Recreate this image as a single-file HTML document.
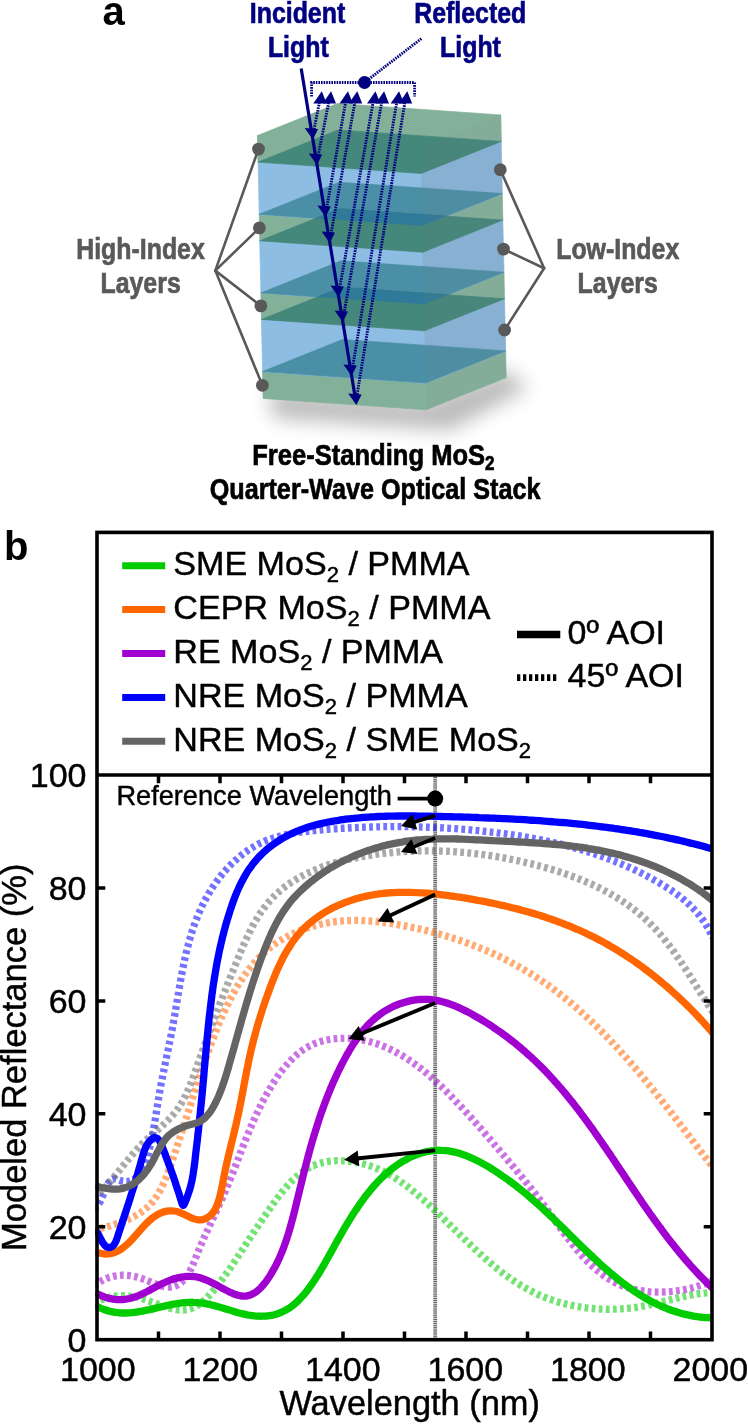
<!DOCTYPE html>
<html lang="en"><head><meta charset="utf-8"><title>Quarter-wave optical stack reflectance</title>
<style>html,body{margin:0;padding:0;background:#fff}svg{display:block}text{font-family:"Liberation Sans",Arial,Helvetica,sans-serif}</style>
</head><body>
<svg width="748" height="1425" viewBox="0 0 748 1425">
<rect width="748" height="1425" fill="#fff"/>
<defs>
<filter id="blur" x="-30%" y="-50%" width="160%" height="200%"><feGaussianBlur stdDeviation="10"/></filter>
<clipPath id="plotclip"><rect x="95.2" y="775.0" width="618.0" height="564.7"/></clipPath>
</defs>
<g id="stack">
<polygon points="268,390 426,402 506,370 528,388 450,430 274,418" fill="#000" opacity="0.27" filter="url(#blur)"/>
<polygon points="257.5,135.6 337.5,103.5 500.6,114.9 501.2,141.4 421.2,173.5 258.1,162.1" fill="#82b098" stroke="#82b098" stroke-width="0.7" stroke-linejoin="round"/>
<polygon points="257.5,135.6 420.6,147.0 421.2,173.8 258.1,162.4" fill="#82b098" stroke="#82b098" stroke-width="0.7" stroke-linejoin="round"/>
<polygon points="420.6,147.0 500.6,114.9 501.2,141.7 421.2,173.8" fill="#86b39b" stroke="#86b39b" stroke-width="0.7" stroke-linejoin="round"/>
<polygon points="259.2,214.3 422.3,225.7 422.9,252.5 259.8,241.1" fill="#82b098" stroke="#82b098" stroke-width="0.7" stroke-linejoin="round"/>
<polygon points="422.3,225.7 502.3,193.6 502.9,220.4 422.9,252.5" fill="#86b39b" stroke="#86b39b" stroke-width="0.7" stroke-linejoin="round"/>
<polygon points="260.9,292.9 424.0,304.3 424.5,331.1 261.4,319.7" fill="#82b098" stroke="#82b098" stroke-width="0.7" stroke-linejoin="round"/>
<polygon points="424.0,304.3 504.0,272.2 504.5,299.0 424.5,331.1" fill="#86b39b" stroke="#86b39b" stroke-width="0.7" stroke-linejoin="round"/>
<polygon points="262.5,371.6 425.6,383.0 426.2,409.8 263.1,398.4" fill="#82b098" stroke="#82b098" stroke-width="0.7" stroke-linejoin="round"/>
<polygon points="425.6,383.0 505.6,350.9 506.2,377.7 426.2,409.8" fill="#86b39b" stroke="#86b39b" stroke-width="0.7" stroke-linejoin="round"/>
<polygon points="258.1,162.1 421.2,173.5 422.3,226.0 259.2,214.6" fill="#8dbde2" stroke="#8dbde2" stroke-width="0.7" stroke-linejoin="round"/>
<polygon points="421.2,173.5 501.2,141.4 502.3,193.9 422.3,226.0" fill="#89b6da" stroke="#89b6da" stroke-width="0.7" stroke-linejoin="round"/>
<polygon points="259.7,240.8 422.8,252.2 424.0,304.6 260.9,293.2" fill="#8dbde2" stroke="#8dbde2" stroke-width="0.7" stroke-linejoin="round"/>
<polygon points="422.8,252.2 502.8,220.1 504.0,272.5 424.0,304.6" fill="#89b6da" stroke="#89b6da" stroke-width="0.7" stroke-linejoin="round"/>
<polygon points="261.4,319.4 424.5,330.8 425.7,383.3 262.6,371.9" fill="#8dbde2" stroke="#8dbde2" stroke-width="0.7" stroke-linejoin="round"/>
<polygon points="424.5,330.8 504.5,298.7 505.7,351.2 425.7,383.3" fill="#89b6da" stroke="#89b6da" stroke-width="0.7" stroke-linejoin="round"/>
<polygon points="259.2,214.3 339.2,182.2 502.3,193.6 422.3,225.7" fill="#4b8fa6" stroke="#4b8fa6" stroke-width="0.7" stroke-linejoin="round"/>
<polygon points="260.9,292.9 340.9,260.8 504.0,272.2 424.0,304.3" fill="#4b8fa6" stroke="#4b8fa6" stroke-width="0.7" stroke-linejoin="round"/>
<polygon points="262.5,371.6 342.5,339.5 505.6,350.9 425.6,383.0" fill="#4b8fa6" stroke="#4b8fa6" stroke-width="0.7" stroke-linejoin="round"/>
<polygon points="258.1,162.1 338.1,130.0 501.2,141.4 421.2,173.5" fill="#44877b" stroke="#44877b" stroke-width="0.7" stroke-linejoin="round"/>
<polygon points="259.7,240.8 339.7,208.7 502.8,220.1 422.8,252.2" fill="#44877b" stroke="#44877b" stroke-width="0.7" stroke-linejoin="round"/>
<polygon points="261.4,319.4 341.4,287.3 504.5,298.7 424.5,330.8" fill="#44877b" stroke="#44877b" stroke-width="0.7" stroke-linejoin="round"/>
<clipPath id="cp1"><polygon points="259.2,214.3 339.2,182.2 502.3,193.6 422.3,225.7"/></clipPath>
<polygon points="259.7,240.8 339.7,208.7 502.8,220.1 422.8,252.2" fill="#2f7a98" stroke="#2f7a98" stroke-width="0.7" stroke-linejoin="round" clip-path="url(#cp1)"/>
<clipPath id="cp2"><polygon points="260.9,292.9 340.9,260.8 504.0,272.2 424.0,304.3"/></clipPath>
<polygon points="261.4,319.4 341.4,287.3 504.5,298.7 424.5,330.8" fill="#2f7a98" stroke="#2f7a98" stroke-width="0.7" stroke-linejoin="round" clip-path="url(#cp2)"/>
<polygon points="420.6,147.0 500.6,114.9 506.2,377.4 426.2,409.5" fill="#7a7a80" opacity="0.09"/>
</g>
<line x1="215.3" y1="270.6" x2="258.5" y2="149.1" stroke="#595959" stroke-width="2.6" stroke-linecap="round"/>
<line x1="215.3" y1="270.6" x2="259.4" y2="227.9" stroke="#595959" stroke-width="2.6" stroke-linecap="round"/>
<line x1="215.3" y1="270.6" x2="260.9" y2="305.9" stroke="#595959" stroke-width="2.6" stroke-linecap="round"/>
<line x1="215.3" y1="270.6" x2="262.4" y2="385.3" stroke="#595959" stroke-width="2.6" stroke-linecap="round"/>
<circle cx="258.5" cy="149.1" r="6.4" fill="#595959"/>
<circle cx="259.4" cy="227.9" r="6.4" fill="#595959"/>
<circle cx="260.9" cy="305.9" r="6.4" fill="#595959"/>
<circle cx="262.4" cy="385.3" r="6.4" fill="#595959"/>
<line x1="544.1" y1="268.2" x2="500.3" y2="169.7" stroke="#595959" stroke-width="2.6" stroke-linecap="round"/>
<line x1="544.1" y1="268.2" x2="503.5" y2="249.1" stroke="#595959" stroke-width="2.6" stroke-linecap="round"/>
<line x1="544.1" y1="268.2" x2="504.6" y2="330.0" stroke="#595959" stroke-width="2.6" stroke-linecap="round"/>
<circle cx="500.3" cy="169.7" r="6.4" fill="#595959"/>
<circle cx="503.5" cy="249.1" r="6.4" fill="#595959"/>
<circle cx="504.6" cy="330.0" r="6.4" fill="#595959"/>
<text transform="translate(297.5 23.1) scale(0.830 1)" text-anchor="middle" font-size="30" font-weight="bold" fill="#000080" stroke="#000080" stroke-width="0.7">Incident</text>
<text transform="translate(298.3 57.1) scale(0.830 1)" text-anchor="middle" font-size="30" font-weight="bold" fill="#000080" stroke="#000080" stroke-width="0.7">Light</text>
<text transform="translate(470.2 23.1) scale(0.830 1)" text-anchor="middle" font-size="30" font-weight="bold" fill="#000080" stroke="#000080" stroke-width="0.7">Reflected</text>
<text transform="translate(470.5 57.1) scale(0.830 1)" text-anchor="middle" font-size="30" font-weight="bold" fill="#000080" stroke="#000080" stroke-width="0.7">Light</text>
<text transform="translate(140.5 259.4) scale(0.830 1)" text-anchor="middle" font-size="30" font-weight="bold" fill="#595959" stroke="#595959" stroke-width="0.7">High-Index</text>
<text transform="translate(140.6 293.2) scale(0.830 1)" text-anchor="middle" font-size="30" font-weight="bold" fill="#595959" stroke="#595959" stroke-width="0.7">Layers</text>
<text transform="translate(617.7 258.8) scale(0.830 1)" text-anchor="middle" font-size="30" font-weight="bold" fill="#595959" stroke="#595959" stroke-width="0.7">Low-Index</text>
<text transform="translate(617.7 292.6) scale(0.830 1)" text-anchor="middle" font-size="30" font-weight="bold" fill="#595959" stroke="#595959" stroke-width="0.7">Layers</text>
<text transform="translate(373.4 464.7) scale(0.852 1)" text-anchor="middle" font-size="30" font-weight="bold" fill="#000" stroke="#000" stroke-width="0.7">Free-Standing MoS<tspan font-size="20" dy="5">2</tspan></text>
<text transform="translate(375.1 498.8) scale(0.840 1)" text-anchor="middle" font-size="30" font-weight="bold" fill="#000" stroke="#000" stroke-width="0.7">Quarter-Wave Optical Stack</text>
<text x="102.5" y="25.3" font-size="40" font-weight="bold" fill="#000">a</text>
<text x="4" y="560.1" font-size="40" font-weight="bold" fill="#000">b</text>
<g id="rays" stroke="#000080" fill="#000080">
<line x1="312.5" y1="137.0" x2="319.3" y2="103.0" stroke-width="2.9" stroke-dasharray="1.6 1.0"/>
<line x1="316.7" y1="163.0" x2="328.6" y2="103.0" stroke-width="2.9" stroke-dasharray="1.6 1.0"/>
<line x1="325.3" y1="215.5" x2="345.5" y2="103.0" stroke-width="2.9" stroke-dasharray="1.6 1.0"/>
<line x1="329.6" y1="241.5" x2="354.8" y2="103.0" stroke-width="2.9" stroke-dasharray="1.6 1.0"/>
<line x1="338.4" y1="295.0" x2="373.0" y2="103.0" stroke-width="2.9" stroke-dasharray="1.6 1.0"/>
<line x1="342.6" y1="321.0" x2="381.6" y2="103.0" stroke-width="2.9" stroke-dasharray="1.6 1.0"/>
<line x1="351.4" y1="374.5" x2="396.6" y2="103.0" stroke-width="2.9" stroke-dasharray="1.6 1.0"/>
<line x1="355.9" y1="402.0" x2="404.8" y2="103.0" stroke-width="2.9" stroke-dasharray="1.6 1.0"/>
<polygon points="321.8,91.3 313.3,103.4 326.7,103.4" stroke="none"/>
<polygon points="331.1,91.3 322.6,103.4 336.0,103.4" stroke="none"/>
<polygon points="348.0,91.3 339.5,103.4 352.9,103.4" stroke="none"/>
<polygon points="357.3,91.3 348.8,103.4 362.2,103.4" stroke="none"/>
<polygon points="375.5,91.3 367.0,103.4 380.4,103.4" stroke="none"/>
<polygon points="384.1,91.3 375.6,103.4 389.0,103.4" stroke="none"/>
<polygon points="399.1,91.3 390.6,103.4 404.0,103.4" stroke="none"/>
<polygon points="407.3,91.3 398.8,103.4 412.2,103.4" stroke="none"/>
<path d="M311.6 96.5V82.5H414.6V96.5" fill="none" stroke-width="2.9" stroke-dasharray="1.6 1.0"/>
<line x1="364.5" y1="82.5" x2="421.5" y2="38.5" stroke-width="2.9" stroke-dasharray="1.6 1.0"/>
<circle cx="364.5" cy="82.5" r="6.5" stroke="none"/>
<line x1="301.2" y1="68.4" x2="355.3" y2="398" stroke-width="3.2"/>
<polygon points="312.9,139.5 304.7,128.0 318.1,129.0" stroke="none"/>
<polygon points="317.0,165.0 308.8,153.5 322.2,154.5" stroke="none"/>
<polygon points="325.6,217.0 317.4,205.5 330.8,206.5" stroke="none"/>
<polygon points="329.8,243.0 321.6,231.5 335.0,232.5" stroke="none"/>
<polygon points="338.7,297.0 330.5,285.5 343.9,286.5" stroke="none"/>
<polygon points="342.8,322.0 334.6,310.5 348.0,311.5" stroke="none"/>
<polygon points="351.6,376.0 343.4,364.5 356.8,365.5" stroke="none"/>
<polygon points="356.4,405.0 348.2,393.5 361.6,394.5" stroke="none"/>
</g>
<g id="plot">
<style>#plot text{stroke:#000;stroke-width:0.45px;paint-order:stroke fill}</style>
<line x1="435.2" y1="775.0" x2="435.2" y2="1339.7" stroke="#cdcdcd" stroke-width="3.6"/>
<line x1="435.2" y1="775.0" x2="435.2" y2="1339.7" stroke="#666" stroke-width="3.8" stroke-dasharray="1 1.1"/>
<g clip-path="url(#plotclip)" fill="none" stroke-width="7.3">
<path d="M93.9 1303.2C95.9 1302.1 97.9 1301.1 99.9 1300.3C101.9 1299.4 103.9 1298.7 105.8 1298.1C107.8 1297.5 109.7 1297.0 111.7 1296.6C113.6 1296.3 115.5 1296.0 117.5 1295.8C119.4 1295.7 121.3 1295.6 123.3 1295.7C125.2 1295.7 127.2 1295.8 129.1 1296.1C131.0 1296.3 133.0 1296.6 135.0 1297.0C136.9 1297.4 138.9 1297.9 140.9 1298.4C142.9 1299.0 144.9 1299.6 146.9 1300.3C148.9 1301.0 150.9 1301.7 153.0 1302.4C155.0 1303.2 157.0 1303.9 159.1 1304.7C161.1 1305.4 163.1 1306.1 165.1 1306.8C167.2 1307.4 169.1 1308.0 171.1 1308.5C173.1 1309.0 175.0 1309.4 177.0 1309.7C178.9 1310.0 180.8 1310.1 182.6 1310.1C184.4 1310.0 186.2 1309.8 188.0 1309.4C189.7 1309.0 191.4 1308.5 193.1 1307.7C194.8 1307.0 196.4 1306.1 198.0 1305.1C199.6 1304.0 201.1 1302.9 202.6 1301.6C204.1 1300.4 205.6 1299.0 207.0 1297.6C208.5 1296.1 209.9 1294.6 211.3 1293.0C212.6 1291.5 214.0 1289.9 215.3 1288.2C216.6 1286.6 217.9 1285.0 219.2 1283.3C220.5 1281.6 221.7 1280.0 223.0 1278.3C224.2 1276.6 225.4 1274.9 226.6 1273.2C227.8 1271.6 229.0 1269.9 230.2 1268.2C231.3 1266.5 232.5 1264.8 233.6 1263.1C234.8 1261.4 235.9 1259.7 237.0 1258.0C238.1 1256.3 239.2 1254.6 240.3 1252.9C241.4 1251.2 242.5 1249.5 243.6 1247.8C244.7 1246.1 245.8 1244.5 246.9 1242.8C248.0 1241.1 249.0 1239.5 250.1 1237.8C251.2 1236.2 252.3 1234.5 253.4 1232.9C254.5 1231.2 255.6 1229.6 256.7 1227.9C257.8 1226.3 258.9 1224.6 260.0 1223.0C261.1 1221.3 262.2 1219.7 263.3 1218.0C264.4 1216.4 265.6 1214.7 266.7 1213.1C267.9 1211.4 269.1 1209.7 270.2 1208.1C271.4 1206.4 272.6 1204.7 273.8 1203.0C275.0 1201.3 276.2 1199.7 277.5 1198.0C278.7 1196.3 280.0 1194.6 281.3 1193.0C282.6 1191.4 283.9 1189.7 285.3 1188.2C286.6 1186.6 288.0 1185.0 289.4 1183.5C290.8 1182.0 292.3 1180.5 293.7 1179.1C295.2 1177.7 296.7 1176.4 298.3 1175.1C299.8 1173.8 301.4 1172.6 303.1 1171.4C304.7 1170.3 306.4 1169.2 308.1 1168.3C309.8 1167.3 311.6 1166.4 313.4 1165.6C315.2 1164.8 317.1 1164.1 319.0 1163.6C320.9 1163.0 322.8 1162.5 324.8 1162.1C326.8 1161.7 328.8 1161.4 330.8 1161.2C332.9 1160.9 334.9 1160.8 336.9 1160.7C339.0 1160.7 341.1 1160.7 343.1 1160.8C345.2 1160.9 347.2 1161.0 349.3 1161.3C351.3 1161.5 353.3 1161.8 355.4 1162.1C357.4 1162.5 359.3 1162.9 361.3 1163.4C363.2 1163.9 365.2 1164.4 367.1 1165.0C369.0 1165.6 370.9 1166.2 372.7 1166.9C374.6 1167.6 376.4 1168.3 378.2 1169.1C380.0 1169.9 381.8 1170.8 383.6 1171.6C385.4 1172.5 387.1 1173.4 388.8 1174.4C390.6 1175.4 392.3 1176.4 394.0 1177.4C395.7 1178.4 397.3 1179.5 399.0 1180.6C400.7 1181.7 402.3 1182.9 403.9 1184.0C405.6 1185.2 407.2 1186.4 408.8 1187.6C410.4 1188.9 412.0 1190.1 413.5 1191.4C415.1 1192.7 416.7 1194.0 418.2 1195.3C419.8 1196.6 421.3 1198.0 422.9 1199.3C424.4 1200.7 425.9 1202.1 427.5 1203.4C429.0 1204.8 430.5 1206.2 432.0 1207.6C433.5 1209.0 435.0 1210.5 436.5 1211.9C438.0 1213.3 439.5 1214.7 441.0 1216.2C442.4 1217.6 443.9 1219.1 445.4 1220.5C446.9 1221.9 448.4 1223.4 449.8 1224.8C451.3 1226.3 452.8 1227.7 454.2 1229.2C455.7 1230.6 457.2 1232.1 458.7 1233.5C460.1 1235.0 461.6 1236.4 463.1 1237.8C464.6 1239.3 466.0 1240.7 467.5 1242.1C469.0 1243.6 470.5 1245.0 472.0 1246.4C473.5 1247.8 475.0 1249.2 476.5 1250.6C477.9 1252.0 479.5 1253.4 481.0 1254.7C482.5 1256.1 484.0 1257.5 485.5 1258.8C487.0 1260.1 488.6 1261.5 490.1 1262.8C491.6 1264.1 493.2 1265.4 494.7 1266.7C496.3 1267.9 497.9 1269.2 499.5 1270.4C501.0 1271.7 502.6 1272.9 504.2 1274.1C505.8 1275.3 507.4 1276.5 509.1 1277.6C510.7 1278.8 512.3 1279.9 514.0 1281.0C515.6 1282.1 517.3 1283.2 519.0 1284.2C520.7 1285.3 522.4 1286.3 524.1 1287.3C525.8 1288.3 527.5 1289.2 529.3 1290.2C531.0 1291.1 532.8 1292.0 534.6 1292.9C536.4 1293.7 538.2 1294.6 540.0 1295.4C541.8 1296.2 543.7 1296.9 545.6 1297.7C547.4 1298.4 549.3 1299.1 551.2 1299.7C553.1 1300.4 555.0 1301.0 556.9 1301.6C558.9 1302.2 560.8 1302.8 562.8 1303.3C564.7 1303.8 566.7 1304.3 568.7 1304.7C570.6 1305.2 572.6 1305.6 574.6 1306.0C576.6 1306.4 578.6 1306.7 580.6 1307.0C582.7 1307.4 584.7 1307.6 586.7 1307.9C588.7 1308.1 590.8 1308.4 592.8 1308.5C594.8 1308.7 596.9 1308.9 598.9 1309.0C601.0 1309.1 603.0 1309.2 605.1 1309.2C607.1 1309.3 609.2 1309.3 611.2 1309.2C613.3 1309.2 615.3 1309.2 617.3 1309.1C619.4 1309.0 621.4 1308.9 623.5 1308.7C625.5 1308.6 627.5 1308.4 629.6 1308.1C631.6 1307.9 633.6 1307.7 635.6 1307.4C637.6 1307.1 639.6 1306.8 641.6 1306.4C643.6 1306.1 645.6 1305.7 647.6 1305.3C649.6 1304.8 651.5 1304.4 653.5 1304.0C655.5 1303.5 657.4 1303.0 659.4 1302.5C661.3 1302.0 663.3 1301.6 665.3 1301.1C667.2 1300.6 669.2 1300.1 671.1 1299.6C673.1 1299.1 675.0 1298.6 677.0 1298.1C678.9 1297.6 680.9 1297.1 682.9 1296.7C684.8 1296.3 686.8 1295.8 688.8 1295.4C690.8 1295.0 692.8 1294.7 694.8 1294.3C696.8 1294.0 698.8 1293.7 700.8 1293.4C702.8 1293.1 704.9 1292.9 706.9 1292.8C709.0 1292.6 711.0 1292.5 713.1 1292.4" stroke="#00cc00" stroke-opacity="0.55" stroke-dasharray="3.8 3.3"/>
<path d="M93.3 1230.1C95.4 1229.6 97.4 1229.1 99.4 1228.6C101.4 1228.2 103.5 1227.6 105.5 1227.1C107.5 1226.6 109.5 1226.0 111.5 1225.4C113.5 1224.8 115.5 1224.2 117.5 1223.5C119.4 1222.9 121.4 1222.2 123.3 1221.4C125.2 1220.7 127.0 1219.9 128.9 1219.1C130.7 1218.2 132.5 1217.3 134.2 1216.4C136.0 1215.5 137.7 1214.5 139.3 1213.4C140.9 1212.4 142.5 1211.2 144.0 1210.1C145.5 1208.9 147.0 1207.6 148.4 1206.3C149.7 1205.0 151.1 1203.6 152.3 1202.1C153.5 1200.6 154.7 1199.1 155.8 1197.5C156.9 1195.9 157.9 1194.3 158.9 1192.6C159.9 1190.9 160.8 1189.1 161.7 1187.3C162.6 1185.6 163.4 1183.7 164.2 1181.9C165.0 1180.0 165.8 1178.2 166.6 1176.3C167.3 1174.4 168.0 1172.4 168.7 1170.5C169.4 1168.6 170.1 1166.7 170.8 1164.7C171.5 1162.8 172.2 1160.9 172.8 1158.9C173.5 1157.0 174.1 1155.1 174.8 1153.2C175.4 1151.2 176.1 1149.3 176.7 1147.4C177.4 1145.5 178.0 1143.5 178.6 1141.6C179.3 1139.7 179.9 1137.8 180.5 1135.9C181.1 1134.0 181.8 1132.1 182.4 1130.2C183.0 1128.2 183.6 1126.3 184.2 1124.4C184.8 1122.5 185.4 1120.6 186.1 1118.7C186.7 1116.8 187.3 1114.9 187.9 1113.0C188.5 1111.1 189.1 1109.2 189.7 1107.3C190.3 1105.4 190.9 1103.5 191.5 1101.6C192.1 1099.7 192.7 1097.8 193.3 1095.9C193.9 1094.0 194.6 1092.1 195.2 1090.2C195.8 1088.3 196.4 1086.4 197.0 1084.5C197.6 1082.6 198.3 1080.7 198.9 1078.8C199.5 1077.0 200.2 1075.1 200.8 1073.2C201.4 1071.3 202.1 1069.4 202.7 1067.5C203.4 1065.6 204.0 1063.7 204.7 1061.8C205.3 1059.9 206.0 1058.0 206.7 1056.1C207.4 1054.2 208.0 1052.3 208.7 1050.4C209.4 1048.5 210.1 1046.6 210.8 1044.7C211.5 1042.8 212.2 1040.9 213.0 1039.0C213.7 1037.1 214.4 1035.2 215.2 1033.3C215.9 1031.4 216.7 1029.5 217.4 1027.6C218.2 1025.7 219.0 1023.8 219.8 1021.9C220.6 1020.0 221.4 1018.1 222.2 1016.2C223.0 1014.4 223.9 1012.5 224.7 1010.6C225.6 1008.7 226.5 1006.9 227.4 1005.0C228.2 1003.2 229.2 1001.4 230.1 999.6C231.0 997.7 232.0 995.9 232.9 994.1C233.9 992.4 234.9 990.6 235.9 988.8C236.9 987.1 238.0 985.3 239.0 983.6C240.1 981.9 241.2 980.2 242.3 978.6C243.4 976.9 244.5 975.2 245.7 973.6C246.8 972.0 248.0 970.4 249.2 968.9C250.5 967.3 251.7 965.8 253.0 964.2C254.3 962.7 255.6 961.3 256.9 959.8C258.2 958.4 259.6 957.0 261.0 955.6C262.4 954.2 263.9 952.9 265.3 951.6C266.8 950.3 268.3 949.0 269.8 947.8C271.4 946.6 273.0 945.4 274.6 944.2C276.2 943.1 277.8 942.0 279.5 940.9C281.2 939.9 282.9 938.9 284.7 937.9C286.4 936.9 288.2 936.0 290.0 935.1C291.8 934.2 293.6 933.3 295.5 932.5C297.3 931.7 299.2 930.9 301.1 930.2C303.0 929.5 304.9 928.8 306.8 928.1C308.7 927.5 310.7 926.9 312.6 926.3C314.6 925.8 316.6 925.2 318.5 924.8C320.5 924.3 322.5 923.8 324.5 923.4C326.5 923.0 328.5 922.7 330.5 922.3C332.5 922.0 334.6 921.7 336.6 921.5C338.6 921.3 340.6 921.1 342.6 920.9C344.6 920.8 346.6 920.6 348.6 920.6C350.6 920.5 352.6 920.4 354.6 920.4C356.6 920.4 358.6 920.5 360.6 920.5C362.6 920.6 364.6 920.7 366.6 920.8C368.6 920.9 370.6 921.1 372.6 921.2C374.6 921.4 376.6 921.6 378.6 921.8C380.6 922.0 382.6 922.3 384.5 922.6C386.5 922.8 388.5 923.1 390.5 923.4C392.5 923.7 394.5 924.0 396.5 924.4C398.4 924.7 400.4 925.1 402.4 925.4C404.4 925.8 406.4 926.2 408.3 926.6C410.3 927.0 412.3 927.4 414.3 927.8C416.3 928.2 418.2 928.6 420.2 929.1C422.2 929.6 424.1 930.0 426.1 930.5C428.1 931.0 430.0 931.5 432.0 932.0C434.0 932.5 435.9 933.0 437.9 933.6C439.8 934.1 441.8 934.7 443.7 935.3C445.7 935.8 447.6 936.4 449.5 937.0C451.5 937.6 453.4 938.2 455.3 938.9C457.3 939.5 459.2 940.2 461.1 940.8C463.0 941.5 464.9 942.2 466.8 942.9C468.7 943.6 470.6 944.3 472.5 945.0C474.4 945.7 476.3 946.5 478.2 947.2C480.1 948.0 481.9 948.7 483.8 949.5C485.7 950.3 487.5 951.1 489.4 951.9C491.2 952.7 493.1 953.6 494.9 954.4C496.7 955.3 498.5 956.1 500.4 957.0C502.2 957.9 504.0 958.8 505.8 959.7C507.6 960.6 509.4 961.5 511.1 962.5C512.9 963.4 514.7 964.4 516.4 965.4C518.2 966.3 520.0 967.3 521.7 968.3C523.4 969.3 525.2 970.3 526.9 971.4C528.6 972.4 530.3 973.5 532.0 974.5C533.7 975.6 535.4 976.7 537.0 977.8C538.7 978.9 540.4 980.0 542.0 981.1C543.7 982.3 545.3 983.4 547.0 984.6C548.6 985.7 550.2 986.9 551.8 988.1C553.4 989.2 555.0 990.4 556.6 991.7C558.2 992.9 559.8 994.1 561.4 995.3C562.9 996.6 564.5 997.8 566.0 999.1C567.6 1000.3 569.1 1001.6 570.7 1002.9C572.2 1004.2 573.7 1005.5 575.3 1006.8C576.8 1008.1 578.3 1009.4 579.8 1010.8C581.3 1012.1 582.8 1013.4 584.2 1014.8C585.7 1016.1 587.2 1017.5 588.7 1018.9C590.1 1020.3 591.6 1021.6 593.0 1023.0C594.5 1024.4 595.9 1025.8 597.4 1027.2C598.8 1028.7 600.2 1030.1 601.7 1031.5C603.1 1032.9 604.5 1034.4 605.9 1035.8C607.3 1037.3 608.7 1038.7 610.1 1040.2C611.5 1041.7 612.9 1043.1 614.2 1044.6C615.6 1046.1 617.0 1047.6 618.4 1049.1C619.7 1050.6 621.1 1052.1 622.4 1053.6C623.8 1055.1 625.1 1056.6 626.5 1058.1C627.8 1059.6 629.1 1061.1 630.5 1062.7C631.8 1064.2 633.1 1065.7 634.4 1067.3C635.8 1068.8 637.1 1070.4 638.4 1071.9C639.7 1073.5 641.0 1075.0 642.3 1076.6C643.6 1078.1 644.9 1079.7 646.2 1081.3C647.5 1082.8 648.7 1084.4 650.0 1086.0C651.3 1087.6 652.6 1089.1 653.8 1090.7C655.1 1092.3 656.4 1093.9 657.6 1095.5C658.9 1097.1 660.2 1098.6 661.4 1100.2C662.7 1101.8 663.9 1103.4 665.2 1105.0C666.4 1106.6 667.7 1108.2 668.9 1109.8C670.2 1111.4 671.4 1113.0 672.6 1114.6C673.9 1116.2 675.1 1117.8 676.3 1119.4C677.6 1121.0 678.8 1122.6 680.0 1124.2C681.2 1125.8 682.5 1127.4 683.7 1129.0C684.9 1130.6 686.1 1132.2 687.3 1133.8C688.5 1135.4 689.8 1137.0 691.0 1138.5C692.2 1140.1 693.4 1141.7 694.6 1143.3C695.8 1144.9 697.0 1146.5 698.2 1148.1C699.4 1149.7 700.6 1151.2 701.8 1152.8C703.0 1154.4 704.2 1156.0 705.5 1157.6C706.7 1159.1 707.9 1160.7 709.1 1162.3C710.3 1163.8 711.5 1165.4 712.7 1166.9" stroke="#ff6600" stroke-opacity="0.55" stroke-dasharray="3.8 3.3"/>
<path d="M94.0 1285.9C95.8 1284.5 97.6 1283.2 99.4 1282.1C101.3 1281.0 103.1 1280.0 105.0 1279.2C106.9 1278.3 108.7 1277.6 110.6 1277.1C112.5 1276.5 114.4 1276.1 116.3 1275.8C118.2 1275.5 120.2 1275.3 122.1 1275.2C124.0 1275.2 126.0 1275.2 127.9 1275.4C129.9 1275.6 131.8 1275.9 133.8 1276.3C135.8 1276.7 137.8 1277.2 139.8 1277.9C141.8 1278.5 143.8 1279.2 145.8 1280.0C147.8 1280.8 149.8 1281.6 151.8 1282.4C153.8 1283.3 155.8 1284.0 157.8 1284.7C159.7 1285.4 161.7 1286.0 163.5 1286.4C165.4 1286.9 167.3 1287.1 169.0 1287.1C170.8 1287.2 172.5 1286.9 174.2 1286.4C175.8 1285.9 177.4 1285.1 178.9 1284.2C180.4 1283.2 181.8 1282.0 183.1 1280.6C184.5 1279.3 185.7 1277.8 186.9 1276.1C188.0 1274.5 189.1 1272.8 190.0 1270.9C191.0 1269.1 191.9 1267.2 192.7 1265.3C193.5 1263.3 194.3 1261.4 195.1 1259.4C195.9 1257.4 196.6 1255.4 197.4 1253.5C198.2 1251.5 199.0 1249.6 199.8 1247.7C200.6 1245.7 201.4 1243.8 202.2 1241.9C203.1 1240.0 203.9 1238.2 204.7 1236.3C205.6 1234.4 206.4 1232.6 207.3 1230.7C208.1 1228.9 209.0 1227.0 209.8 1225.2C210.7 1223.3 211.5 1221.5 212.4 1219.7C213.2 1217.9 214.1 1216.0 214.9 1214.2C215.8 1212.4 216.6 1210.6 217.4 1208.8C218.3 1207.0 219.1 1205.1 219.9 1203.3C220.8 1201.5 221.6 1199.7 222.4 1197.9C223.2 1196.1 224.0 1194.2 224.8 1192.4C225.6 1190.6 226.4 1188.7 227.1 1186.9C227.9 1185.0 228.7 1183.2 229.4 1181.3C230.2 1179.5 230.9 1177.6 231.6 1175.8C232.4 1173.9 233.1 1172.0 233.8 1170.2C234.6 1168.3 235.3 1166.4 236.0 1164.6C236.7 1162.7 237.4 1160.8 238.2 1159.0C238.9 1157.1 239.6 1155.2 240.3 1153.3C241.1 1151.5 241.8 1149.6 242.5 1147.7C243.2 1145.8 244.0 1144.0 244.7 1142.1C245.4 1140.2 246.2 1138.4 246.9 1136.5C247.7 1134.6 248.5 1132.8 249.2 1130.9C250.0 1129.0 250.8 1127.2 251.6 1125.3C252.4 1123.5 253.2 1121.6 254.0 1119.8C254.8 1117.9 255.6 1116.1 256.5 1114.3C257.3 1112.4 258.2 1110.6 259.1 1108.8C260.0 1107.0 260.9 1105.2 261.8 1103.3C262.7 1101.5 263.7 1099.7 264.6 1098.0C265.6 1096.2 266.6 1094.4 267.6 1092.6C268.6 1090.9 269.6 1089.1 270.7 1087.3C271.7 1085.6 272.8 1083.9 273.9 1082.1C275.0 1080.4 276.2 1078.7 277.3 1077.0C278.5 1075.3 279.7 1073.6 280.9 1072.0C282.1 1070.4 283.4 1068.7 284.7 1067.2C286.0 1065.6 287.3 1064.1 288.7 1062.6C290.0 1061.1 291.5 1059.6 292.9 1058.3C294.3 1056.9 295.8 1055.5 297.3 1054.3C298.8 1053.0 300.4 1051.8 302.0 1050.6C303.6 1049.5 305.2 1048.4 306.9 1047.4C308.6 1046.4 310.4 1045.5 312.1 1044.7C313.9 1043.8 315.7 1043.1 317.6 1042.4C319.5 1041.8 321.4 1041.2 323.3 1040.7C325.3 1040.2 327.3 1039.8 329.3 1039.5C331.3 1039.1 333.3 1038.9 335.3 1038.7C337.4 1038.5 339.4 1038.4 341.5 1038.3C343.5 1038.3 345.6 1038.3 347.7 1038.4C349.7 1038.5 351.8 1038.6 353.8 1038.9C355.9 1039.1 357.9 1039.4 359.9 1039.7C362.0 1040.0 364.0 1040.4 365.9 1040.8C367.9 1041.3 369.9 1041.8 371.8 1042.3C373.7 1042.9 375.6 1043.5 377.5 1044.1C379.4 1044.7 381.3 1045.4 383.1 1046.2C385.0 1046.9 386.8 1047.7 388.6 1048.5C390.4 1049.3 392.2 1050.2 394.0 1051.1C395.7 1052.0 397.5 1053.0 399.2 1054.0C401.0 1054.9 402.7 1056.0 404.4 1057.0C406.1 1058.1 407.7 1059.2 409.4 1060.3C411.1 1061.4 412.7 1062.5 414.3 1063.7C416.0 1064.9 417.6 1066.1 419.2 1067.3C420.8 1068.6 422.4 1069.8 424.0 1071.1C425.5 1072.4 427.1 1073.7 428.6 1075.0C430.2 1076.4 431.7 1077.7 433.2 1079.1C434.7 1080.4 436.3 1081.8 437.7 1083.2C439.2 1084.6 440.7 1086.0 442.2 1087.4C443.7 1088.9 445.1 1090.3 446.6 1091.7C448.0 1093.2 449.5 1094.6 450.9 1096.1C452.3 1097.6 453.7 1099.0 455.1 1100.5C456.5 1102.0 457.9 1103.4 459.3 1104.9C460.7 1106.4 462.1 1107.9 463.5 1109.4C464.9 1110.9 466.2 1112.4 467.6 1113.9C469.0 1115.4 470.3 1116.9 471.7 1118.4C473.0 1119.9 474.3 1121.4 475.7 1122.9C477.0 1124.4 478.3 1125.9 479.7 1127.4C481.0 1128.9 482.3 1130.4 483.6 1131.9C484.9 1133.4 486.2 1135.0 487.6 1136.5C488.9 1138.0 490.2 1139.5 491.5 1141.0C492.8 1142.5 494.1 1144.1 495.3 1145.6C496.6 1147.1 497.9 1148.6 499.2 1150.1C500.5 1151.6 501.8 1153.2 503.1 1154.7C504.3 1156.2 505.6 1157.7 506.9 1159.2C508.2 1160.7 509.5 1162.2 510.7 1163.7C512.0 1165.3 513.3 1166.8 514.6 1168.3C515.8 1169.8 517.1 1171.3 518.4 1172.9C519.6 1174.4 520.9 1175.9 522.1 1177.4C523.4 1179.0 524.7 1180.5 525.9 1182.1C527.2 1183.6 528.4 1185.2 529.7 1186.7C530.9 1188.3 532.1 1189.9 533.4 1191.4C534.6 1193.0 535.9 1194.6 537.1 1196.2C538.3 1197.8 539.5 1199.4 540.8 1201.0C542.0 1202.7 543.2 1204.3 544.4 1205.9C545.6 1207.6 546.8 1209.2 548.0 1210.9C549.2 1212.6 550.4 1214.2 551.6 1215.9C552.8 1217.6 554.0 1219.3 555.2 1221.0C556.4 1222.7 557.6 1224.4 558.9 1226.0C560.1 1227.7 561.3 1229.4 562.5 1231.1C563.7 1232.8 564.9 1234.4 566.2 1236.1C567.4 1237.8 568.6 1239.4 569.9 1241.0C571.1 1242.7 572.4 1244.3 573.7 1245.9C575.0 1247.5 576.3 1249.1 577.6 1250.6C578.9 1252.2 580.2 1253.7 581.5 1255.2C582.9 1256.7 584.2 1258.2 585.6 1259.7C587.0 1261.1 588.4 1262.5 589.8 1263.9C591.2 1265.3 592.7 1266.6 594.1 1267.9C595.6 1269.2 597.1 1270.5 598.6 1271.7C600.1 1272.9 601.7 1274.1 603.2 1275.3C604.8 1276.4 606.4 1277.5 608.1 1278.5C609.7 1279.5 611.4 1280.5 613.1 1281.4C614.8 1282.4 616.5 1283.2 618.3 1284.0C620.1 1284.8 621.9 1285.6 623.7 1286.3C625.6 1286.9 627.5 1287.6 629.4 1288.1C631.3 1288.7 633.2 1289.2 635.2 1289.6C637.2 1290.0 639.2 1290.4 641.2 1290.7C643.3 1291.0 645.3 1291.3 647.4 1291.5C649.4 1291.7 651.5 1291.8 653.6 1291.9C655.7 1292.0 657.8 1292.1 659.9 1292.0C662.0 1292.0 664.1 1292.0 666.2 1291.8C668.2 1291.7 670.3 1291.6 672.4 1291.3C674.5 1291.1 676.6 1290.9 678.6 1290.5C680.7 1290.2 682.7 1289.9 684.7 1289.5C686.8 1289.1 688.8 1288.6 690.7 1288.2C692.7 1287.7 694.6 1287.1 696.5 1286.6C698.5 1286.0 700.3 1285.4 702.2 1284.7C704.0 1284.1 705.8 1283.4 707.5 1282.7C709.3 1282.0 711.0 1281.2 712.6 1280.4" stroke="#a000d0" stroke-opacity="0.55" stroke-dasharray="3.8 3.3"/>
<path d="M93.8 1208.5C95.5 1207.8 96.9 1206.5 98.1 1205.0C99.3 1203.5 100.3 1201.6 101.2 1199.6C102.1 1197.7 102.9 1195.5 103.7 1193.4C104.5 1191.3 105.2 1189.2 106.1 1187.2C107.0 1185.2 108.0 1183.4 109.2 1181.9C110.4 1180.5 111.8 1179.4 113.4 1179.0C115.0 1178.6 116.9 1179.3 118.8 1180.0C120.8 1180.8 122.7 1181.3 124.4 1181.4C126.2 1181.6 128.0 1181.4 129.6 1181.0C131.2 1180.6 132.8 1179.9 134.2 1179.1C135.7 1178.2 137.0 1177.1 138.2 1175.8C139.5 1174.5 140.6 1173.0 141.6 1171.4C142.6 1169.8 143.5 1168.1 144.3 1166.3C145.1 1164.4 145.8 1162.5 146.5 1160.5C147.1 1158.5 147.7 1156.5 148.2 1154.4C148.7 1152.3 149.2 1150.3 149.7 1148.2C150.2 1146.1 150.6 1144.1 151.1 1142.1C151.5 1140.0 151.9 1138.0 152.3 1136.0C152.7 1134.0 153.1 1131.9 153.4 1129.9C153.8 1127.9 154.1 1125.9 154.5 1124.0C154.8 1122.0 155.1 1120.0 155.5 1118.0C155.8 1116.0 156.1 1114.1 156.4 1112.1C156.7 1110.1 157.0 1108.2 157.3 1106.2C157.7 1104.2 158.0 1102.3 158.3 1100.3C158.6 1098.4 158.9 1096.4 159.2 1094.4C159.6 1092.5 159.9 1090.5 160.3 1088.6C160.6 1086.6 161.0 1084.7 161.3 1082.7C161.7 1080.8 162.1 1078.8 162.5 1076.9C162.9 1074.9 163.3 1072.9 163.7 1071.0C164.1 1069.0 164.5 1067.1 164.9 1065.1C165.3 1063.1 165.7 1061.2 166.1 1059.2C166.5 1057.2 166.9 1055.3 167.4 1053.3C167.8 1051.3 168.2 1049.3 168.6 1047.4C169.0 1045.4 169.4 1043.4 169.8 1041.4C170.2 1039.5 170.6 1037.5 171.0 1035.5C171.4 1033.5 171.8 1031.5 172.2 1029.5C172.5 1027.5 172.9 1025.5 173.3 1023.5C173.6 1021.5 174.0 1019.5 174.3 1017.5C174.7 1015.5 175.0 1013.5 175.4 1011.5C175.7 1009.5 176.0 1007.5 176.4 1005.5C176.7 1003.5 177.0 1001.4 177.4 999.4C177.7 997.4 178.0 995.4 178.4 993.4C178.7 991.4 179.0 989.4 179.4 987.4C179.7 985.4 180.1 983.4 180.4 981.4C180.8 979.4 181.2 977.4 181.5 975.4C181.9 973.4 182.3 971.4 182.7 969.4C183.1 967.5 183.5 965.5 183.9 963.5C184.3 961.5 184.7 959.5 185.1 957.6C185.6 955.6 186.0 953.7 186.5 951.7C187.0 949.7 187.5 947.8 188.0 945.9C188.5 943.9 189.0 942.0 189.5 940.1C190.1 938.1 190.7 936.2 191.2 934.3C191.8 932.4 192.4 930.5 193.1 928.6C193.7 926.7 194.3 924.8 195.0 923.0C195.7 921.1 196.4 919.2 197.2 917.4C197.9 915.5 198.7 913.7 199.5 911.9C200.2 910.1 201.1 908.2 201.9 906.4C202.8 904.6 203.7 902.8 204.6 901.1C205.5 899.3 206.5 897.5 207.5 895.8C208.4 894.0 209.5 892.3 210.5 890.6C211.6 888.9 212.7 887.2 213.8 885.5C215.0 883.8 216.2 882.1 217.4 880.5C218.6 878.8 219.8 877.2 221.1 875.6C222.4 874.0 223.7 872.4 225.1 870.9C226.4 869.3 227.8 867.8 229.2 866.3C230.6 864.9 232.1 863.4 233.6 862.0C235.1 860.6 236.6 859.3 238.1 857.9C239.7 856.6 241.2 855.3 242.8 854.1C244.4 852.9 246.1 851.7 247.7 850.5C249.4 849.4 251.1 848.3 252.8 847.3C254.5 846.2 256.2 845.3 258.0 844.3C259.8 843.4 261.6 842.6 263.4 841.8C265.2 841.0 267.1 840.2 268.9 839.5C270.8 838.8 272.7 838.2 274.6 837.6C276.5 837.0 278.4 836.5 280.3 836.0C282.3 835.5 284.2 835.0 286.2 834.6C288.1 834.2 290.1 833.8 292.1 833.5C294.1 833.1 296.1 832.8 298.1 832.5C300.1 832.2 302.1 831.9 304.1 831.7C306.2 831.4 308.2 831.2 310.2 831.0C312.2 830.8 314.3 830.6 316.3 830.4C318.3 830.2 320.4 830.0 322.4 829.8C324.4 829.6 326.4 829.5 328.5 829.3C330.5 829.2 332.5 829.0 334.5 828.9C336.6 828.7 338.6 828.6 340.6 828.4C342.6 828.3 344.7 828.2 346.7 828.1C348.7 827.9 350.7 827.8 352.7 827.7C354.7 827.6 356.8 827.5 358.8 827.4C360.8 827.4 362.8 827.3 364.8 827.2C366.8 827.1 368.8 827.1 370.9 827.0C372.9 826.9 374.9 826.9 376.9 826.8C378.9 826.8 380.9 826.8 382.9 826.7C384.9 826.7 386.9 826.7 389.0 826.7C391.0 826.6 393.0 826.6 395.0 826.6C397.0 826.6 399.0 826.6 401.0 826.6C403.0 826.7 405.0 826.7 407.0 826.7C409.0 826.7 411.0 826.8 413.0 826.8C415.1 826.8 417.1 826.9 419.1 826.9C421.1 827.0 423.1 827.1 425.1 827.1C427.1 827.2 429.1 827.3 431.1 827.4C433.1 827.4 435.1 827.5 437.1 827.6C439.1 827.7 441.1 827.8 443.2 827.9C445.2 828.1 447.2 828.2 449.2 828.3C451.2 828.4 453.2 828.6 455.2 828.7C457.2 828.8 459.2 829.0 461.2 829.2C463.2 829.3 465.3 829.5 467.3 829.6C469.3 829.8 471.3 830.0 473.3 830.2C475.3 830.4 477.3 830.5 479.3 830.7C481.3 830.9 483.4 831.2 485.4 831.4C487.4 831.6 489.4 831.8 491.4 832.1C493.4 832.3 495.4 832.5 497.4 832.8C499.4 833.0 501.5 833.3 503.5 833.6C505.5 833.8 507.5 834.1 509.5 834.4C511.5 834.7 513.5 835.0 515.5 835.3C517.5 835.6 519.5 835.9 521.5 836.3C523.5 836.6 525.5 836.9 527.5 837.3C529.5 837.6 531.5 838.0 533.4 838.3C535.4 838.7 537.4 839.1 539.4 839.5C541.4 839.9 543.4 840.3 545.3 840.7C547.3 841.1 549.3 841.6 551.3 842.0C553.2 842.4 555.2 842.9 557.2 843.4C559.1 843.8 561.1 844.3 563.1 844.8C565.0 845.3 567.0 845.8 568.9 846.3C570.9 846.8 572.8 847.3 574.7 847.9C576.7 848.4 578.6 849.0 580.6 849.5C582.5 850.1 584.4 850.7 586.3 851.3C588.3 851.9 590.2 852.5 592.1 853.1C594.0 853.7 595.9 854.4 597.8 855.0C599.7 855.7 601.6 856.3 603.5 857.0C605.4 857.7 607.3 858.4 609.2 859.1C611.0 859.8 612.9 860.5 614.8 861.3C616.6 862.0 618.5 862.8 620.4 863.6C622.2 864.3 624.1 865.1 625.9 865.9C627.7 866.7 629.6 867.6 631.4 868.4C633.2 869.2 635.1 870.1 636.9 871.0C638.7 871.8 640.5 872.7 642.3 873.6C644.1 874.5 645.9 875.5 647.7 876.4C649.4 877.3 651.2 878.3 653.0 879.3C654.7 880.3 656.5 881.2 658.3 882.3C660.0 883.3 661.7 884.3 663.5 885.4C665.2 886.4 666.9 887.5 668.6 888.6C670.3 889.7 672.0 890.8 673.6 892.0C675.3 893.1 676.9 894.3 678.5 895.5C680.1 896.7 681.7 898.0 683.2 899.2C684.8 900.5 686.3 901.8 687.8 903.2C689.3 904.5 690.7 905.9 692.1 907.3C693.5 908.7 694.9 910.2 696.2 911.7C697.6 913.2 698.9 914.7 700.1 916.3C701.3 917.9 702.5 919.5 703.7 921.2C704.8 922.8 705.9 924.6 706.9 926.3C708.0 928.1 709.0 929.9 709.9 931.8C710.8 933.7 711.7 935.6 712.5 937.6" stroke="#0000ff" stroke-opacity="0.55" stroke-dasharray="3.8 3.3"/>
<path d="M94.2 1198.2C95.7 1196.9 97.2 1195.5 98.6 1194.1C100.1 1192.7 101.5 1191.2 102.9 1189.8C104.3 1188.3 105.6 1186.8 107.0 1185.3C108.3 1183.8 109.6 1182.3 110.9 1180.8C112.2 1179.2 113.5 1177.7 114.8 1176.1C116.1 1174.6 117.3 1173.0 118.6 1171.4C119.9 1169.9 121.1 1168.3 122.4 1166.7C123.6 1165.2 124.9 1163.6 126.2 1162.0C127.4 1160.5 128.7 1158.9 130.0 1157.4C131.3 1155.8 132.6 1154.3 133.9 1152.8C135.2 1151.2 136.6 1149.7 137.9 1148.3C139.3 1146.8 140.7 1145.3 142.1 1143.9C143.5 1142.5 145.0 1141.1 146.5 1139.7C147.9 1138.3 149.4 1137.0 151.0 1135.7C152.5 1134.3 154.0 1133.0 155.5 1131.7C157.0 1130.4 158.6 1129.0 160.1 1127.7C161.6 1126.4 163.1 1125.0 164.5 1123.7C166.0 1122.3 167.4 1120.9 168.8 1119.5C170.2 1118.1 171.6 1116.6 172.9 1115.1C174.2 1113.7 175.4 1112.1 176.6 1110.5C177.8 1108.9 178.9 1107.3 179.9 1105.6C181.0 1103.9 182.0 1102.2 183.0 1100.4C183.9 1098.7 184.9 1096.9 185.8 1095.1C186.6 1093.2 187.5 1091.4 188.3 1089.5C189.1 1087.7 189.9 1085.8 190.6 1083.9C191.4 1081.9 192.1 1080.0 192.8 1078.1C193.6 1076.2 194.3 1074.2 194.9 1072.3C195.6 1070.3 196.3 1068.4 197.0 1066.5C197.7 1064.5 198.3 1062.6 199.0 1060.7C199.7 1058.8 200.3 1056.9 201.0 1055.0C201.7 1053.0 202.4 1051.2 203.1 1049.3C203.7 1047.4 204.4 1045.5 205.1 1043.6C205.8 1041.7 206.4 1039.9 207.1 1038.0C207.8 1036.1 208.5 1034.2 209.2 1032.4C209.9 1030.5 210.5 1028.7 211.2 1026.8C211.9 1025.0 212.6 1023.1 213.3 1021.3C214.0 1019.4 214.7 1017.6 215.4 1015.7C216.1 1013.9 216.8 1012.0 217.5 1010.2C218.2 1008.3 218.9 1006.5 219.6 1004.6C220.3 1002.8 221.0 1000.9 221.8 999.1C222.5 997.3 223.2 995.4 223.9 993.6C224.6 991.7 225.4 989.8 226.1 988.0C226.8 986.1 227.6 984.3 228.3 982.4C229.0 980.6 229.8 978.7 230.5 976.8C231.3 974.9 232.0 973.1 232.8 971.2C233.6 969.3 234.3 967.4 235.1 965.5C235.9 963.6 236.6 961.7 237.4 959.8C238.2 957.9 239.0 956.0 239.8 954.1C240.6 952.2 241.4 950.2 242.2 948.3C243.0 946.4 243.8 944.5 244.7 942.6C245.5 940.7 246.4 938.8 247.3 936.9C248.2 935.0 249.1 933.2 250.0 931.3C250.9 929.5 251.8 927.6 252.8 925.8C253.8 924.0 254.8 922.2 255.8 920.5C256.8 918.7 257.9 917.0 258.9 915.3C260.0 913.6 261.1 911.9 262.3 910.3C263.4 908.7 264.6 907.1 265.8 905.5C267.1 904.0 268.3 902.5 269.6 901.0C270.9 899.5 272.3 898.1 273.6 896.7C275.0 895.4 276.4 894.0 277.9 892.7C279.3 891.4 280.8 890.2 282.3 889.0C283.8 887.7 285.3 886.6 286.9 885.4C288.5 884.3 290.1 883.2 291.7 882.1C293.3 881.0 295.0 880.0 296.7 879.0C298.4 878.0 300.1 877.1 301.8 876.1C303.5 875.2 305.3 874.3 307.1 873.4C308.9 872.6 310.7 871.8 312.5 871.0C314.3 870.2 316.2 869.4 318.0 868.7C319.9 867.9 321.8 867.2 323.7 866.5C325.6 865.9 327.5 865.2 329.4 864.6C331.3 864.0 333.3 863.4 335.2 862.8C337.2 862.2 339.1 861.7 341.1 861.2C343.1 860.7 345.1 860.2 347.1 859.7C349.0 859.2 351.1 858.8 353.1 858.3C355.1 857.9 357.1 857.5 359.1 857.1C361.1 856.7 363.1 856.4 365.2 856.0C367.2 855.7 369.2 855.4 371.3 855.1C373.3 854.7 375.3 854.5 377.3 854.2C379.4 853.9 381.4 853.7 383.4 853.4C385.5 853.2 387.5 853.0 389.5 852.8C391.5 852.6 393.6 852.4 395.6 852.2C397.6 852.0 399.6 851.9 401.6 851.7C403.7 851.6 405.7 851.5 407.7 851.4C409.7 851.3 411.8 851.2 413.8 851.1C415.8 851.0 417.8 851.0 419.8 850.9C421.8 850.9 423.9 850.8 425.9 850.8C427.9 850.8 429.9 850.8 431.9 850.8C433.9 850.9 435.9 850.9 437.9 851.0C439.9 851.0 442.0 851.1 444.0 851.2C446.0 851.2 448.0 851.3 450.0 851.4C452.0 851.6 454.0 851.7 456.0 851.8C458.0 852.0 460.0 852.1 462.0 852.3C464.0 852.5 466.0 852.6 468.0 852.8C470.0 853.0 472.0 853.3 474.0 853.5C476.0 853.7 478.0 854.0 480.0 854.2C482.0 854.5 484.0 854.7 486.0 855.0C487.9 855.3 489.9 855.6 491.9 855.9C493.9 856.2 495.9 856.5 497.9 856.9C499.9 857.2 501.8 857.6 503.8 857.9C505.8 858.3 507.8 858.7 509.8 859.1C511.7 859.5 513.7 859.9 515.7 860.3C517.7 860.7 519.6 861.1 521.6 861.6C523.6 862.0 525.6 862.5 527.5 863.0C529.5 863.4 531.5 863.9 533.4 864.4C535.4 864.9 537.4 865.4 539.3 865.9C541.3 866.5 543.2 867.0 545.2 867.5C547.1 868.1 549.1 868.7 551.0 869.2C553.0 869.8 554.9 870.4 556.8 871.0C558.8 871.6 560.7 872.3 562.6 872.9C564.5 873.5 566.4 874.2 568.4 874.9C570.3 875.6 572.2 876.3 574.0 877.0C575.9 877.7 577.8 878.4 579.7 879.2C581.5 879.9 583.4 880.7 585.3 881.5C587.1 882.3 588.9 883.1 590.8 883.9C592.6 884.7 594.4 885.6 596.2 886.5C598.0 887.3 599.8 888.2 601.6 889.1C603.4 890.0 605.2 891.0 606.9 891.9C608.7 892.9 610.4 893.9 612.1 894.9C613.8 895.9 615.6 896.9 617.2 897.9C618.9 899.0 620.6 900.0 622.3 901.1C623.9 902.2 625.6 903.4 627.2 904.5C628.8 905.6 630.5 906.8 632.0 908.0C633.6 909.2 635.2 910.4 636.8 911.7C638.3 912.9 639.8 914.2 641.4 915.5C642.9 916.8 644.4 918.1 645.8 919.5C647.3 920.8 648.8 922.2 650.2 923.6C651.6 925.0 653.0 926.5 654.4 928.0C655.8 929.4 657.2 930.9 658.5 932.4C659.9 934.0 661.2 935.5 662.5 937.1C663.8 938.7 665.1 940.2 666.3 941.9C667.6 943.5 668.9 945.1 670.1 946.7C671.3 948.4 672.6 950.0 673.8 951.7C675.0 953.4 676.1 955.1 677.3 956.8C678.5 958.5 679.7 960.2 680.8 961.9C682.0 963.6 683.1 965.3 684.2 967.1C685.4 968.8 686.5 970.5 687.6 972.2C688.7 974.0 689.8 975.7 690.9 977.4C692.0 979.2 693.1 980.9 694.1 982.6C695.2 984.3 696.3 986.1 697.3 987.8C698.4 989.5 699.5 991.2 700.5 992.9C701.6 994.6 702.6 996.3 703.7 997.9C704.8 999.6 705.8 1001.3 706.9 1002.9C707.9 1004.5 709.0 1006.2 710.0 1007.8C711.1 1009.4 712.1 1011.0 713.2 1012.5" stroke="#646464" stroke-opacity="0.55" stroke-dasharray="3.8 3.3"/>
<path d="M94.9 1305.2C96.6 1306.1 98.2 1307.0 99.8 1307.8C101.5 1308.6 103.1 1309.2 104.8 1309.8C106.4 1310.4 108.0 1310.9 109.7 1311.3C111.3 1311.7 113.0 1312.0 114.6 1312.3C116.3 1312.5 117.9 1312.7 119.5 1312.8C121.2 1312.9 122.8 1313.0 124.5 1313.0C126.1 1313.0 127.7 1312.9 129.4 1312.8C131.0 1312.7 132.7 1312.6 134.3 1312.4C135.9 1312.2 137.6 1311.9 139.2 1311.6C140.9 1311.4 142.5 1311.1 144.2 1310.8C145.8 1310.4 147.4 1310.1 149.1 1309.7C150.7 1309.4 152.4 1309.0 154.0 1308.6C155.6 1308.2 157.3 1307.8 158.9 1307.4C160.6 1307.0 162.2 1306.6 163.9 1306.3C165.5 1305.9 167.2 1305.5 168.8 1305.2C170.5 1304.8 172.1 1304.5 173.7 1304.2C175.4 1303.9 177.0 1303.6 178.7 1303.3C180.3 1303.1 182.0 1302.9 183.6 1302.7C185.3 1302.5 186.9 1302.4 188.6 1302.3C190.2 1302.3 191.9 1302.2 193.5 1302.3C195.2 1302.3 196.8 1302.4 198.5 1302.6C200.2 1302.7 201.8 1303.0 203.5 1303.2C205.1 1303.5 206.8 1303.8 208.4 1304.2C210.1 1304.5 211.7 1305.0 213.4 1305.4C215.1 1305.8 216.7 1306.3 218.4 1306.8C220.0 1307.2 221.7 1307.7 223.3 1308.2C225.0 1308.7 226.6 1309.2 228.3 1309.7C229.9 1310.3 231.6 1310.8 233.2 1311.2C234.8 1311.7 236.5 1312.2 238.1 1312.7C239.8 1313.1 241.4 1313.5 243.0 1313.9C244.7 1314.3 246.3 1314.7 247.9 1315.0C249.5 1315.3 251.2 1315.5 252.8 1315.7C254.4 1315.9 256.0 1316.1 257.6 1316.2C259.2 1316.2 260.8 1316.3 262.4 1316.2C264.0 1316.2 265.6 1316.1 267.1 1316.0C268.7 1315.8 270.2 1315.6 271.7 1315.3C273.2 1315.0 274.7 1314.6 276.2 1314.2C277.7 1313.8 279.1 1313.3 280.5 1312.7C282.0 1312.1 283.4 1311.5 284.7 1310.7C286.1 1310.0 287.4 1309.2 288.7 1308.4C290.0 1307.5 291.3 1306.6 292.6 1305.6C293.8 1304.6 295.1 1303.6 296.3 1302.5C297.5 1301.4 298.7 1300.2 299.8 1299.0C301.0 1297.8 302.1 1296.6 303.3 1295.3C304.4 1294.0 305.5 1292.7 306.6 1291.3C307.6 1290.0 308.7 1288.6 309.7 1287.2C310.8 1285.7 311.8 1284.3 312.8 1282.8C313.8 1281.3 314.8 1279.8 315.8 1278.3C316.7 1276.8 317.7 1275.3 318.6 1273.8C319.6 1272.2 320.5 1270.7 321.4 1269.1C322.3 1267.6 323.2 1266.0 324.1 1264.5C325.0 1262.9 325.9 1261.3 326.7 1259.8C327.6 1258.3 328.5 1256.7 329.3 1255.2C330.2 1253.7 331.0 1252.2 331.8 1250.7C332.7 1249.2 333.5 1247.7 334.3 1246.2C335.1 1244.8 335.9 1243.3 336.7 1241.9C337.5 1240.4 338.4 1239.0 339.2 1237.5C340.0 1236.1 340.8 1234.7 341.6 1233.3C342.4 1231.8 343.2 1230.4 344.0 1229.0C344.9 1227.6 345.7 1226.2 346.5 1224.8C347.3 1223.5 348.2 1222.1 349.0 1220.7C349.9 1219.3 350.7 1217.9 351.6 1216.5C352.5 1215.2 353.3 1213.8 354.2 1212.4C355.1 1211.1 356.0 1209.7 357.0 1208.3C357.9 1207.0 358.8 1205.6 359.8 1204.2C360.7 1202.9 361.7 1201.5 362.7 1200.1C363.7 1198.8 364.7 1197.4 365.7 1196.1C366.8 1194.7 367.8 1193.4 368.9 1192.1C369.9 1190.7 371.0 1189.4 372.1 1188.1C373.2 1186.8 374.4 1185.5 375.5 1184.3C376.7 1183.0 377.8 1181.7 379.0 1180.5C380.2 1179.3 381.4 1178.1 382.7 1176.9C383.9 1175.7 385.1 1174.5 386.4 1173.4C387.7 1172.3 389.0 1171.2 390.3 1170.1C391.7 1169.0 393.0 1168.0 394.4 1166.9C395.8 1165.9 397.2 1164.9 398.6 1164.0C400.0 1163.0 401.5 1162.1 403.0 1161.3C404.4 1160.4 405.9 1159.5 407.5 1158.8C409.0 1158.0 410.5 1157.2 412.1 1156.5C413.6 1155.8 415.2 1155.2 416.8 1154.6C418.4 1154.0 420.0 1153.5 421.6 1153.0C423.2 1152.5 424.8 1152.1 426.4 1151.7C428.0 1151.4 429.6 1151.1 431.3 1150.8C432.9 1150.6 434.5 1150.4 436.1 1150.3C437.8 1150.2 439.4 1150.2 441.0 1150.3C442.6 1150.3 444.2 1150.4 445.8 1150.6C447.5 1150.8 449.1 1151.0 450.7 1151.3C452.3 1151.6 453.9 1151.9 455.4 1152.3C457.0 1152.7 458.6 1153.1 460.2 1153.6C461.8 1154.1 463.4 1154.7 464.9 1155.2C466.5 1155.8 468.0 1156.4 469.6 1157.1C471.1 1157.7 472.7 1158.4 474.2 1159.2C475.7 1159.9 477.3 1160.6 478.8 1161.4C480.3 1162.2 481.8 1163.0 483.3 1163.9C484.8 1164.7 486.3 1165.6 487.7 1166.4C489.2 1167.3 490.7 1168.2 492.1 1169.1C493.6 1170.0 495.0 1170.9 496.4 1171.9C497.8 1172.8 499.2 1173.7 500.6 1174.7C502.0 1175.6 503.4 1176.6 504.8 1177.6C506.2 1178.5 507.5 1179.5 508.9 1180.5C510.2 1181.5 511.6 1182.5 512.9 1183.5C514.2 1184.5 515.6 1185.5 516.9 1186.6C518.2 1187.6 519.5 1188.6 520.8 1189.7C522.1 1190.7 523.4 1191.8 524.7 1192.8C526.0 1193.9 527.2 1195.0 528.5 1196.0C529.8 1197.1 531.0 1198.2 532.3 1199.3C533.5 1200.4 534.8 1201.5 536.0 1202.6C537.3 1203.7 538.5 1204.8 539.8 1205.9C541.0 1207.0 542.2 1208.2 543.5 1209.3C544.7 1210.4 545.9 1211.6 547.1 1212.7C548.3 1213.9 549.6 1215.0 550.8 1216.2C552.0 1217.3 553.2 1218.5 554.4 1219.6C555.6 1220.8 556.8 1222.0 558.0 1223.1C559.3 1224.3 560.5 1225.5 561.7 1226.7C562.9 1227.9 564.1 1229.1 565.3 1230.2C566.5 1231.4 567.7 1232.6 568.9 1233.8C570.1 1235.0 571.3 1236.2 572.5 1237.4C573.8 1238.6 575.0 1239.8 576.2 1241.0C577.4 1242.2 578.6 1243.4 579.8 1244.6C581.0 1245.8 582.3 1246.9 583.5 1248.1C584.7 1249.3 585.9 1250.5 587.2 1251.7C588.4 1252.9 589.6 1254.0 590.9 1255.2C592.1 1256.4 593.3 1257.5 594.6 1258.7C595.8 1259.9 597.1 1261.0 598.3 1262.2C599.6 1263.3 600.8 1264.5 602.1 1265.6C603.3 1266.7 604.6 1267.8 605.9 1269.0C607.1 1270.1 608.4 1271.2 609.7 1272.3C611.0 1273.4 612.3 1274.5 613.6 1275.5C614.8 1276.6 616.1 1277.7 617.5 1278.7C618.8 1279.8 620.1 1280.8 621.4 1281.8C622.7 1282.8 624.0 1283.8 625.4 1284.8C626.7 1285.8 628.1 1286.8 629.4 1287.8C630.8 1288.7 632.1 1289.7 633.5 1290.6C634.9 1291.5 636.2 1292.5 637.6 1293.3C639.0 1294.2 640.4 1295.1 641.8 1296.0C643.2 1296.8 644.7 1297.7 646.1 1298.5C647.5 1299.3 648.9 1300.1 650.4 1300.9C651.8 1301.7 653.3 1302.4 654.8 1303.1C656.2 1303.9 657.7 1304.6 659.2 1305.3C660.7 1306.0 662.2 1306.6 663.7 1307.3C665.2 1307.9 666.8 1308.5 668.3 1309.1C669.9 1309.7 671.4 1310.2 673.0 1310.8C674.5 1311.3 676.1 1311.8 677.7 1312.3C679.3 1312.8 680.9 1313.2 682.5 1313.7C684.2 1314.1 685.8 1314.5 687.5 1314.8C689.1 1315.2 690.8 1315.5 692.4 1315.9C694.1 1316.2 695.8 1316.4 697.5 1316.7C699.2 1316.9 701.0 1317.1 702.7 1317.3C704.5 1317.5 706.2 1317.6 708.0 1317.7C709.8 1317.8 711.6 1317.9 713.4 1317.9" stroke="#00cc00"/>
<path d="M94.6 1251.5C96.5 1252.4 98.4 1252.9 100.3 1253.3C102.1 1253.7 103.8 1253.9 105.5 1254.0C107.2 1254.0 108.8 1253.9 110.4 1253.6C111.9 1253.3 113.5 1252.9 114.9 1252.3C116.4 1251.8 117.8 1251.1 119.2 1250.3C120.6 1249.5 121.9 1248.6 123.2 1247.6C124.5 1246.6 125.8 1245.5 127.0 1244.4C128.3 1243.2 129.5 1242.0 130.7 1240.8C131.9 1239.5 133.1 1238.2 134.3 1236.9C135.5 1235.6 136.7 1234.2 137.8 1232.9C139.0 1231.6 140.2 1230.2 141.4 1228.9C142.5 1227.6 143.7 1226.3 144.9 1225.0C146.1 1223.7 147.3 1222.5 148.6 1221.3C149.8 1220.2 151.1 1219.1 152.3 1218.1C153.6 1217.0 154.9 1216.1 156.3 1215.3C157.6 1214.4 159.0 1213.7 160.4 1213.1C161.8 1212.5 163.2 1212.0 164.7 1211.6C166.2 1211.2 167.7 1211.0 169.2 1210.9C170.7 1210.8 172.2 1210.8 173.8 1211.0C175.4 1211.2 177.0 1211.5 178.6 1212.0C180.2 1212.6 181.8 1213.2 183.4 1214.0C185.1 1214.8 186.7 1215.6 188.4 1216.4C190.0 1217.2 191.6 1218.0 193.3 1218.6C194.9 1219.2 196.5 1219.6 198.1 1219.8C199.7 1220.0 201.2 1219.9 202.7 1219.6C204.2 1219.2 205.6 1218.7 206.9 1217.9C208.2 1217.2 209.4 1216.4 210.5 1215.4C211.5 1214.4 212.5 1213.2 213.4 1212.0C214.3 1210.8 215.1 1209.5 215.8 1208.0C216.5 1206.6 217.1 1205.1 217.7 1203.5C218.3 1202.0 218.8 1200.3 219.3 1198.6C219.8 1196.9 220.2 1195.2 220.6 1193.4C221.0 1191.7 221.4 1189.9 221.8 1188.1C222.1 1186.2 222.5 1184.4 222.8 1182.6C223.1 1180.8 223.5 1179.0 223.8 1177.3C224.1 1175.5 224.5 1173.8 224.9 1172.1C225.2 1170.4 225.6 1168.7 225.9 1167.0C226.3 1165.3 226.7 1163.6 227.0 1162.0C227.4 1160.3 227.8 1158.7 228.2 1157.1C228.5 1155.5 228.9 1153.9 229.3 1152.3C229.7 1150.7 230.1 1149.1 230.5 1147.5C230.9 1145.9 231.2 1144.3 231.6 1142.8C232.0 1141.2 232.4 1139.6 232.8 1138.1C233.2 1136.5 233.5 1134.9 233.9 1133.4C234.3 1131.8 234.7 1130.2 235.0 1128.7C235.4 1127.1 235.8 1125.5 236.2 1123.9C236.5 1122.4 236.9 1120.8 237.2 1119.2C237.6 1117.6 237.9 1116.0 238.3 1114.4C238.6 1112.7 239.0 1111.1 239.3 1109.5C239.6 1107.8 240.0 1106.2 240.3 1104.5C240.6 1102.9 241.0 1101.2 241.3 1099.6C241.6 1097.9 241.9 1096.2 242.2 1094.6C242.6 1092.9 242.9 1091.2 243.2 1089.5C243.5 1087.8 243.8 1086.2 244.1 1084.5C244.5 1082.8 244.8 1081.1 245.1 1079.4C245.4 1077.7 245.7 1076.0 246.1 1074.3C246.4 1072.7 246.7 1071.0 247.0 1069.3C247.4 1067.6 247.7 1065.9 248.1 1064.3C248.4 1062.6 248.7 1060.9 249.1 1059.2C249.4 1057.6 249.8 1055.9 250.2 1054.3C250.5 1052.6 250.9 1051.0 251.3 1049.3C251.7 1047.7 252.1 1046.1 252.5 1044.4C252.9 1042.8 253.3 1041.2 253.7 1039.6C254.1 1038.0 254.5 1036.4 255.0 1034.8C255.4 1033.2 255.8 1031.6 256.3 1030.0C256.7 1028.4 257.2 1026.8 257.6 1025.2C258.1 1023.6 258.6 1022.1 259.0 1020.5C259.5 1018.9 260.0 1017.3 260.5 1015.7C261.0 1014.2 261.5 1012.6 262.0 1011.0C262.5 1009.4 263.0 1007.9 263.5 1006.3C264.1 1004.7 264.6 1003.2 265.1 1001.6C265.7 1000.0 266.2 998.4 266.8 996.9C267.3 995.3 267.9 993.7 268.5 992.1C269.1 990.6 269.6 989.0 270.2 987.4C270.8 985.8 271.4 984.2 272.0 982.6C272.6 981.1 273.3 979.5 273.9 977.9C274.5 976.3 275.2 974.8 275.8 973.2C276.5 971.6 277.2 970.1 277.9 968.5C278.6 967.0 279.3 965.4 280.0 963.9C280.8 962.4 281.5 960.8 282.3 959.3C283.0 957.8 283.8 956.3 284.6 954.8C285.4 953.4 286.3 951.9 287.1 950.5C288.0 949.0 288.9 947.6 289.8 946.2C290.7 944.8 291.6 943.4 292.6 942.0C293.5 940.7 294.5 939.3 295.5 938.0C296.6 936.7 297.6 935.4 298.7 934.1C299.8 932.9 300.9 931.6 302.0 930.4C303.1 929.2 304.3 928.1 305.5 926.9C306.7 925.8 307.9 924.6 309.2 923.6C310.5 922.5 311.7 921.4 313.1 920.4C314.4 919.4 315.7 918.4 317.1 917.4C318.4 916.4 319.8 915.5 321.2 914.6C322.6 913.7 324.0 912.8 325.5 911.9C326.9 911.1 328.4 910.2 329.9 909.4C331.3 908.7 332.8 907.9 334.4 907.1C335.9 906.4 337.4 905.7 338.9 905.0C340.5 904.3 342.0 903.7 343.6 903.1C345.1 902.5 346.7 901.9 348.3 901.3C349.9 900.7 351.5 900.2 353.1 899.7C354.7 899.2 356.3 898.7 357.9 898.3C359.5 897.8 361.1 897.4 362.7 897.0C364.3 896.6 365.9 896.2 367.6 895.9C369.2 895.6 370.8 895.3 372.5 895.0C374.1 894.7 375.7 894.4 377.4 894.2C379.0 893.9 380.7 893.7 382.3 893.5C383.9 893.3 385.6 893.2 387.2 893.0C388.9 892.9 390.6 892.8 392.2 892.7C393.9 892.6 395.5 892.5 397.2 892.4C398.9 892.4 400.5 892.3 402.2 892.3C403.9 892.3 405.5 892.3 407.2 892.3C408.9 892.3 410.6 892.3 412.2 892.4C413.9 892.4 415.6 892.5 417.3 892.6C418.9 892.6 420.6 892.7 422.3 892.8C424.0 892.9 425.7 893.1 427.3 893.2C429.0 893.3 430.7 893.5 432.4 893.7C434.1 893.8 435.7 894.0 437.4 894.2C439.1 894.4 440.8 894.6 442.5 894.8C444.1 895.0 445.8 895.2 447.5 895.4C449.2 895.6 450.9 895.9 452.5 896.1C454.2 896.4 455.9 896.6 457.6 896.9C459.2 897.1 460.9 897.4 462.6 897.7C464.3 897.9 465.9 898.2 467.6 898.5C469.3 898.8 470.9 899.1 472.6 899.4C474.2 899.7 475.9 900.0 477.6 900.3C479.2 900.6 480.9 900.9 482.5 901.2C484.2 901.5 485.8 901.8 487.5 902.2C489.1 902.5 490.8 902.8 492.4 903.2C494.1 903.5 495.7 903.9 497.4 904.2C499.0 904.6 500.6 905.0 502.3 905.3C503.9 905.7 505.5 906.1 507.2 906.5C508.8 906.9 510.4 907.3 512.1 907.7C513.7 908.1 515.3 908.5 516.9 908.9C518.5 909.3 520.1 909.7 521.8 910.2C523.4 910.6 525.0 911.0 526.6 911.5C528.2 911.9 529.8 912.4 531.4 912.9C533.0 913.3 534.6 913.8 536.2 914.3C537.8 914.8 539.4 915.3 540.9 915.8C542.5 916.3 544.1 916.8 545.7 917.3C547.3 917.9 548.8 918.4 550.4 918.9C552.0 919.5 553.5 920.0 555.1 920.6C556.7 921.2 558.2 921.7 559.8 922.3C561.3 922.9 562.9 923.5 564.4 924.1C566.0 924.7 567.5 925.3 569.0 925.9C570.6 926.6 572.1 927.2 573.6 927.8C575.2 928.5 576.7 929.1 578.2 929.8C579.7 930.5 581.3 931.2 582.8 931.8C584.3 932.5 585.8 933.2 587.3 934.0C588.8 934.7 590.3 935.4 591.8 936.1C593.3 936.9 594.8 937.6 596.2 938.4C597.7 939.1 599.2 939.9 600.7 940.7C602.1 941.5 603.6 942.3 605.1 943.1C606.5 943.9 608.0 944.7 609.4 945.6C610.9 946.4 612.3 947.2 613.8 948.1C615.2 949.0 616.7 949.8 618.1 950.7C619.5 951.6 621.0 952.5 622.4 953.4C623.8 954.3 625.2 955.2 626.6 956.1C628.0 957.1 629.4 958.0 630.8 958.9C632.2 959.9 633.6 960.9 635.0 961.8C636.4 962.8 637.7 963.8 639.1 964.8C640.5 965.7 641.9 966.7 643.2 967.7C644.6 968.7 645.9 969.8 647.3 970.8C648.6 971.8 650.0 972.8 651.3 973.9C652.6 974.9 654.0 976.0 655.3 977.0C656.6 978.1 657.9 979.2 659.2 980.2C660.5 981.3 661.8 982.4 663.1 983.5C664.4 984.6 665.7 985.7 667.0 986.8C668.2 987.9 669.5 989.0 670.8 990.1C672.0 991.3 673.3 992.4 674.5 993.5C675.8 994.6 677.0 995.8 678.3 996.9C679.5 998.1 680.7 999.2 681.9 1000.4C683.2 1001.6 684.4 1002.7 685.6 1003.9C686.8 1005.1 688.0 1006.3 689.2 1007.4C690.3 1008.6 691.5 1009.8 692.7 1011.0C693.9 1012.2 695.0 1013.4 696.2 1014.6C697.3 1015.8 698.5 1017.0 699.6 1018.2C700.7 1019.4 701.9 1020.7 703.0 1021.9C704.1 1023.1 705.2 1024.3 706.3 1025.6C707.4 1026.8 708.5 1028.0 709.6 1029.3C710.7 1030.5 711.8 1031.7 712.8 1033.0" stroke="#ff6600"/>
<path d="M94.9 1292.3C96.6 1293.3 98.2 1294.2 99.9 1295.0C101.6 1295.8 103.3 1296.5 105.0 1297.1C106.7 1297.7 108.3 1298.2 110.0 1298.6C111.7 1298.9 113.3 1299.2 115.0 1299.4C116.6 1299.6 118.3 1299.6 119.9 1299.6C121.5 1299.6 123.2 1299.5 124.8 1299.3C126.4 1299.1 128.0 1298.8 129.6 1298.5C131.2 1298.1 132.8 1297.7 134.3 1297.1C135.9 1296.6 137.4 1296.0 139.0 1295.4C140.5 1294.7 142.1 1294.0 143.6 1293.3C145.1 1292.5 146.7 1291.7 148.2 1291.0C149.7 1290.2 151.2 1289.3 152.7 1288.5C154.2 1287.7 155.8 1286.9 157.3 1286.1C158.8 1285.3 160.3 1284.5 161.8 1283.8C163.3 1283.1 164.9 1282.4 166.4 1281.7C167.9 1281.0 169.5 1280.4 171.0 1279.9C172.5 1279.3 174.1 1278.8 175.6 1278.4C177.2 1277.9 178.7 1277.6 180.3 1277.3C181.8 1276.9 183.4 1276.7 185.0 1276.6C186.5 1276.4 188.1 1276.3 189.7 1276.4C191.3 1276.4 192.9 1276.5 194.5 1276.7C196.1 1276.9 197.7 1277.2 199.3 1277.6C200.9 1278.1 202.5 1278.6 204.2 1279.2C205.8 1279.8 207.4 1280.5 209.1 1281.3C210.7 1282.1 212.4 1282.9 214.0 1283.7C215.6 1284.6 217.3 1285.5 218.9 1286.4C220.5 1287.3 222.1 1288.1 223.7 1289.0C225.4 1289.8 226.9 1290.7 228.5 1291.4C230.1 1292.2 231.7 1292.9 233.2 1293.6C234.7 1294.2 236.2 1294.7 237.7 1295.1C239.2 1295.6 240.7 1295.9 242.1 1296.0C243.5 1296.2 244.9 1296.2 246.3 1296.0C247.7 1295.9 249.0 1295.5 250.3 1295.0C251.6 1294.6 252.8 1294.0 254.1 1293.2C255.3 1292.5 256.5 1291.6 257.6 1290.6C258.8 1289.7 259.9 1288.6 261.0 1287.5C262.1 1286.3 263.2 1285.1 264.2 1283.8C265.2 1282.5 266.2 1281.2 267.2 1279.8C268.2 1278.4 269.1 1277.0 270.0 1275.6C270.9 1274.1 271.8 1272.7 272.6 1271.2C273.5 1269.8 274.3 1268.3 275.1 1266.8C275.9 1265.3 276.6 1263.8 277.4 1262.3C278.1 1260.8 278.8 1259.2 279.5 1257.7C280.2 1256.1 280.9 1254.6 281.5 1253.0C282.2 1251.4 282.8 1249.9 283.4 1248.3C284.0 1246.7 284.6 1245.1 285.1 1243.5C285.7 1241.8 286.3 1240.2 286.8 1238.6C287.3 1237.0 287.8 1235.3 288.4 1233.7C288.9 1232.1 289.3 1230.4 289.8 1228.8C290.3 1227.1 290.8 1225.5 291.2 1223.8C291.7 1222.1 292.1 1220.5 292.6 1218.8C293.0 1217.1 293.4 1215.5 293.9 1213.8C294.3 1212.1 294.7 1210.4 295.1 1208.8C295.5 1207.1 295.9 1205.4 296.3 1203.8C296.7 1202.1 297.2 1200.4 297.6 1198.7C298.0 1197.1 298.4 1195.4 298.8 1193.7C299.2 1192.1 299.6 1190.4 300.0 1188.7C300.4 1187.1 300.8 1185.4 301.2 1183.8C301.6 1182.1 302.0 1180.5 302.4 1178.8C302.8 1177.2 303.2 1175.5 303.6 1173.9C304.0 1172.2 304.5 1170.6 304.9 1168.9C305.3 1167.3 305.7 1165.7 306.1 1164.0C306.6 1162.4 307.0 1160.8 307.4 1159.1C307.8 1157.5 308.3 1155.9 308.7 1154.2C309.2 1152.6 309.6 1151.0 310.0 1149.4C310.5 1147.8 310.9 1146.2 311.4 1144.5C311.9 1142.9 312.3 1141.3 312.8 1139.7C313.3 1138.1 313.7 1136.5 314.2 1134.9C314.7 1133.3 315.2 1131.7 315.7 1130.1C316.2 1128.5 316.7 1126.9 317.2 1125.3C317.7 1123.8 318.2 1122.2 318.7 1120.6C319.2 1119.0 319.7 1117.4 320.3 1115.9C320.8 1114.3 321.4 1112.7 321.9 1111.1C322.5 1109.6 323.0 1108.0 323.6 1106.4C324.2 1104.9 324.7 1103.3 325.3 1101.8C325.9 1100.2 326.5 1098.7 327.1 1097.1C327.7 1095.6 328.3 1094.0 329.0 1092.5C329.6 1090.9 330.2 1089.4 330.9 1087.9C331.5 1086.3 332.2 1084.8 332.8 1083.3C333.5 1081.7 334.2 1080.2 334.9 1078.7C335.6 1077.2 336.3 1075.6 337.0 1074.1C337.7 1072.6 338.4 1071.1 339.2 1069.6C339.9 1068.1 340.7 1066.6 341.4 1065.1C342.2 1063.6 343.0 1062.1 343.8 1060.6C344.6 1059.1 345.4 1057.6 346.2 1056.1C347.0 1054.6 347.9 1053.2 348.7 1051.7C349.6 1050.2 350.4 1048.8 351.3 1047.3C352.2 1045.9 353.1 1044.4 354.1 1043.0C355.0 1041.6 355.9 1040.2 356.9 1038.8C357.9 1037.4 358.9 1036.0 359.9 1034.7C360.9 1033.3 362.0 1032.0 363.0 1030.7C364.1 1029.4 365.2 1028.1 366.3 1026.9C367.4 1025.6 368.6 1024.4 369.8 1023.2C370.9 1022.0 372.2 1020.9 373.4 1019.8C374.6 1018.6 375.9 1017.5 377.2 1016.5C378.5 1015.5 379.9 1014.4 381.2 1013.5C382.6 1012.5 384.0 1011.6 385.5 1010.7C386.9 1009.8 388.4 1009.0 389.9 1008.2C391.4 1007.4 393.0 1006.6 394.5 1005.9C396.1 1005.2 397.6 1004.6 399.2 1004.0C400.8 1003.4 402.5 1002.9 404.1 1002.4C405.7 1001.9 407.3 1001.5 409.0 1001.1C410.6 1000.7 412.3 1000.4 414.0 1000.1C415.6 999.9 417.3 999.7 419.0 999.5C420.6 999.4 422.3 999.3 424.0 999.3C425.6 999.3 427.3 999.3 428.9 999.4C430.6 999.5 432.2 999.7 433.8 1000.0C435.5 1000.2 437.1 1000.5 438.7 1000.8C440.3 1001.2 441.9 1001.6 443.5 1002.0C445.1 1002.5 446.7 1002.9 448.3 1003.5C449.9 1004.0 451.4 1004.6 453.0 1005.2C454.6 1005.8 456.1 1006.4 457.7 1007.1C459.2 1007.8 460.8 1008.5 462.3 1009.2C463.8 1010.0 465.4 1010.7 466.9 1011.5C468.4 1012.3 469.9 1013.1 471.4 1013.9C472.9 1014.8 474.4 1015.6 475.9 1016.5C477.4 1017.3 478.8 1018.2 480.3 1019.0C481.8 1019.9 483.2 1020.8 484.7 1021.7C486.1 1022.6 487.5 1023.5 489.0 1024.4C490.4 1025.3 491.8 1026.3 493.2 1027.2C494.6 1028.2 496.0 1029.1 497.4 1030.1C498.8 1031.1 500.2 1032.0 501.6 1033.0C502.9 1034.0 504.3 1035.0 505.7 1036.0C507.0 1037.0 508.4 1038.0 509.7 1039.1C511.0 1040.1 512.4 1041.1 513.7 1042.2C515.0 1043.2 516.3 1044.3 517.6 1045.4C518.9 1046.4 520.2 1047.5 521.5 1048.6C522.7 1049.7 524.0 1050.8 525.3 1051.9C526.5 1053.0 527.8 1054.1 529.0 1055.3C530.3 1056.4 531.5 1057.5 532.7 1058.7C534.0 1059.8 535.2 1061.0 536.4 1062.1C537.6 1063.3 538.8 1064.5 540.0 1065.6C541.2 1066.8 542.3 1068.0 543.5 1069.2C544.7 1070.4 545.8 1071.6 547.0 1072.8C548.1 1074.0 549.3 1075.2 550.4 1076.5C551.5 1077.7 552.7 1078.9 553.8 1080.2C554.9 1081.4 556.0 1082.7 557.1 1083.9C558.2 1085.2 559.3 1086.4 560.4 1087.7C561.5 1089.0 562.6 1090.2 563.7 1091.5C564.7 1092.8 565.8 1094.1 566.9 1095.4C567.9 1096.7 569.0 1098.0 570.0 1099.3C571.1 1100.6 572.1 1101.9 573.2 1103.2C574.2 1104.5 575.2 1105.9 576.2 1107.2C577.3 1108.5 578.3 1109.8 579.3 1111.2C580.3 1112.5 581.3 1113.9 582.3 1115.2C583.3 1116.5 584.3 1117.9 585.3 1119.2C586.3 1120.6 587.3 1122.0 588.3 1123.3C589.3 1124.7 590.3 1126.0 591.3 1127.4C592.3 1128.8 593.2 1130.1 594.2 1131.5C595.2 1132.9 596.1 1134.3 597.1 1135.7C598.1 1137.0 599.0 1138.4 600.0 1139.8C601.0 1141.2 601.9 1142.6 602.9 1144.0C603.8 1145.4 604.8 1146.8 605.7 1148.1C606.7 1149.5 607.6 1150.9 608.6 1152.3C609.5 1153.7 610.5 1155.1 611.4 1156.5C612.4 1157.9 613.3 1159.3 614.3 1160.7C615.2 1162.1 616.1 1163.5 617.1 1165.0C618.0 1166.4 619.0 1167.8 619.9 1169.2C620.8 1170.6 621.8 1172.0 622.7 1173.4C623.7 1174.8 624.6 1176.2 625.5 1177.6C626.5 1179.0 627.4 1180.4 628.3 1181.8C629.3 1183.2 630.2 1184.6 631.2 1186.0C632.1 1187.4 633.1 1188.8 634.0 1190.2C634.9 1191.6 635.9 1193.0 636.8 1194.4C637.8 1195.8 638.7 1197.2 639.7 1198.6C640.6 1200.0 641.6 1201.4 642.5 1202.8C643.5 1204.2 644.5 1205.6 645.4 1207.0C646.4 1208.4 647.3 1209.7 648.3 1211.1C649.3 1212.5 650.2 1213.9 651.2 1215.3C652.2 1216.6 653.2 1218.0 654.1 1219.4C655.1 1220.8 656.1 1222.1 657.1 1223.5C658.1 1224.8 659.1 1226.2 660.1 1227.6C661.1 1228.9 662.1 1230.3 663.1 1231.6C664.1 1233.0 665.1 1234.3 666.1 1235.6C667.1 1237.0 668.1 1238.3 669.2 1239.6C670.2 1241.0 671.2 1242.3 672.3 1243.6C673.3 1244.9 674.3 1246.2 675.4 1247.5C676.4 1248.8 677.5 1250.1 678.6 1251.4C679.6 1252.7 680.7 1254.0 681.8 1255.3C682.8 1256.6 683.9 1257.9 685.0 1259.1C686.1 1260.4 687.2 1261.7 688.3 1262.9C689.4 1264.2 690.5 1265.4 691.6 1266.7C692.7 1267.9 693.9 1269.2 695.0 1270.4C696.1 1271.6 697.3 1272.8 698.4 1274.1C699.6 1275.3 700.7 1276.5 701.9 1277.7C703.1 1278.9 704.3 1280.1 705.4 1281.2C706.6 1282.4 707.8 1283.6 709.0 1284.8C710.2 1285.9 711.4 1287.1 712.7 1288.2" stroke="#a000d0"/>
<path d="M95.0 1229.8C96.0 1230.5 96.9 1231.7 97.7 1233.2C98.6 1234.7 99.4 1236.4 100.3 1238.1C101.2 1239.9 102.1 1241.6 103.0 1243.1C104.0 1244.6 105.1 1245.9 106.3 1246.7C107.5 1247.4 108.9 1247.6 110.2 1247.4C111.5 1247.1 112.7 1246.3 113.6 1245.2C114.6 1244.1 115.3 1242.7 116.0 1241.1C116.7 1239.5 117.2 1237.8 117.8 1236.1C118.4 1234.3 118.9 1232.6 119.5 1230.9C120.0 1229.2 120.6 1227.5 121.1 1225.9C121.7 1224.2 122.2 1222.6 122.7 1220.9C123.3 1219.3 123.8 1217.7 124.3 1216.1C124.9 1214.5 125.4 1212.9 125.9 1211.3C126.4 1209.7 126.9 1208.1 127.4 1206.6C128.0 1205.0 128.5 1203.4 129.0 1201.9C129.5 1200.3 130.0 1198.8 130.5 1197.2C131.0 1195.7 131.4 1194.1 131.9 1192.5C132.4 1191.0 132.9 1189.4 133.4 1187.9C133.9 1186.3 134.4 1184.7 134.9 1183.2C135.3 1181.6 135.8 1180.0 136.3 1178.4C136.8 1176.8 137.2 1175.2 137.7 1173.6C138.2 1172.0 138.7 1170.4 139.1 1168.7C139.6 1167.1 140.1 1165.4 140.5 1163.8C141.0 1162.1 141.5 1160.4 141.9 1158.7C142.4 1157.0 142.9 1155.3 143.4 1153.6C143.9 1151.9 144.5 1150.3 145.1 1148.7C145.8 1147.1 146.5 1145.6 147.3 1144.2C148.2 1142.8 149.2 1141.5 150.3 1140.4C151.4 1139.3 152.8 1138.2 154.0 1137.8C155.3 1137.4 156.4 1137.7 157.5 1138.5C158.5 1139.3 159.4 1140.6 160.2 1142.2C161.1 1143.7 161.8 1145.6 162.5 1147.4C163.2 1149.3 163.9 1151.1 164.6 1152.8C165.2 1154.5 165.8 1156.2 166.4 1157.8C167.0 1159.4 167.6 1160.9 168.2 1162.5C168.7 1164.0 169.3 1165.5 169.8 1166.9C170.4 1168.4 170.9 1169.9 171.4 1171.4C172.0 1172.9 172.5 1174.4 173.1 1175.9C173.6 1177.5 174.1 1179.1 174.7 1180.7C175.2 1182.3 175.8 1184.0 176.3 1185.7C176.9 1187.3 177.4 1189.0 178.0 1190.7C178.5 1192.4 179.1 1194.0 179.6 1195.7C180.1 1197.4 180.6 1199.0 181.1 1200.6C181.6 1202.3 182.1 1204.0 182.6 1204.8C183.1 1205.6 183.7 1205.2 184.3 1204.0C185.0 1202.8 185.6 1201.1 186.3 1199.4C186.9 1197.8 187.5 1196.1 188.1 1194.4C188.7 1192.7 189.3 1191.0 189.8 1189.3C190.2 1187.7 190.7 1186.0 191.1 1184.3C191.5 1182.6 191.9 1181.0 192.2 1179.3C192.5 1177.6 192.8 1176.0 193.1 1174.3C193.3 1172.7 193.6 1171.0 193.8 1169.4C194.1 1167.7 194.3 1166.1 194.5 1164.5C194.7 1162.8 194.9 1161.2 195.1 1159.5C195.3 1157.9 195.5 1156.2 195.6 1154.6C195.8 1152.9 196.0 1151.3 196.2 1149.6C196.4 1148.0 196.6 1146.3 196.8 1144.6C197.0 1143.0 197.2 1141.3 197.4 1139.7C197.5 1138.0 197.7 1136.4 197.9 1134.7C198.1 1133.0 198.3 1131.4 198.5 1129.7C198.6 1128.0 198.8 1126.4 199.0 1124.7C199.2 1123.1 199.4 1121.4 199.5 1119.7C199.7 1118.1 199.9 1116.4 200.1 1114.7C200.2 1113.1 200.4 1111.4 200.6 1109.7C200.7 1108.0 200.9 1106.4 201.1 1104.7C201.2 1103.0 201.4 1101.4 201.6 1099.7C201.7 1098.0 201.9 1096.4 202.1 1094.7C202.2 1093.0 202.4 1091.3 202.5 1089.7C202.7 1088.0 202.8 1086.3 203.0 1084.6C203.1 1083.0 203.3 1081.3 203.5 1079.6C203.6 1077.9 203.8 1076.3 203.9 1074.6C204.0 1072.9 204.2 1071.2 204.3 1069.6C204.5 1067.9 204.6 1066.2 204.8 1064.5C204.9 1062.9 205.1 1061.2 205.2 1059.5C205.4 1057.8 205.5 1056.2 205.7 1054.5C205.8 1052.8 206.0 1051.1 206.1 1049.5C206.3 1047.8 206.4 1046.1 206.6 1044.4C206.7 1042.8 206.9 1041.1 207.0 1039.4C207.2 1037.7 207.4 1036.1 207.5 1034.4C207.7 1032.7 207.8 1031.0 208.0 1029.4C208.2 1027.7 208.3 1026.0 208.5 1024.4C208.7 1022.7 208.9 1021.0 209.0 1019.3C209.2 1017.7 209.4 1016.0 209.6 1014.3C209.8 1012.7 210.0 1011.0 210.2 1009.3C210.4 1007.7 210.6 1006.0 210.8 1004.3C211.0 1002.7 211.2 1001.0 211.4 999.4C211.6 997.7 211.8 996.0 212.0 994.4C212.3 992.7 212.5 991.0 212.7 989.4C212.9 987.7 213.2 986.1 213.4 984.4C213.7 982.8 213.9 981.1 214.2 979.5C214.5 977.8 214.7 976.1 215.0 974.5C215.3 972.8 215.5 971.2 215.8 969.6C216.1 967.9 216.4 966.3 216.7 964.6C217.0 963.0 217.3 961.3 217.6 959.7C218.0 958.0 218.3 956.4 218.6 954.8C218.9 953.1 219.3 951.5 219.6 949.9C220.0 948.2 220.4 946.6 220.7 945.0C221.1 943.3 221.5 941.7 221.9 940.1C222.2 938.4 222.6 936.8 223.1 935.2C223.5 933.6 223.9 931.9 224.3 930.3C224.7 928.7 225.2 927.1 225.6 925.5C226.1 923.9 226.5 922.2 227.0 920.6C227.5 919.0 228.0 917.4 228.5 915.8C229.0 914.2 229.5 912.6 230.0 911.0C230.5 909.4 231.0 907.8 231.6 906.2C232.1 904.6 232.7 903.0 233.3 901.4C233.8 899.9 234.4 898.3 235.0 896.7C235.7 895.1 236.3 893.6 236.9 892.0C237.6 890.5 238.3 889.0 239.0 887.4C239.7 885.9 240.4 884.4 241.1 882.9C241.9 881.4 242.7 880.0 243.5 878.5C244.3 877.0 245.1 875.6 245.9 874.2C246.8 872.7 247.7 871.3 248.6 869.9C249.5 868.6 250.5 867.2 251.5 865.9C252.5 864.5 253.5 863.2 254.6 861.9C255.6 860.6 256.7 859.4 257.8 858.1C259.0 856.9 260.1 855.7 261.4 854.5C262.6 853.3 263.8 852.1 265.1 851.0C266.3 849.9 267.6 848.8 269.0 847.7C270.3 846.7 271.7 845.6 273.0 844.6C274.4 843.6 275.8 842.6 277.2 841.7C278.7 840.8 280.1 839.8 281.6 839.0C283.0 838.1 284.5 837.3 286.0 836.4C287.5 835.6 289.0 834.9 290.5 834.1C292.0 833.4 293.6 832.7 295.1 832.0C296.6 831.4 298.2 830.7 299.7 830.1C301.3 829.5 302.9 828.9 304.4 828.4C306.0 827.8 307.6 827.3 309.2 826.8C310.8 826.3 312.4 825.9 314.0 825.4C315.6 825.0 317.2 824.5 318.8 824.1C320.4 823.8 322.1 823.4 323.7 823.0C325.3 822.7 327.0 822.3 328.6 822.0C330.2 821.7 331.9 821.4 333.5 821.1C335.2 820.8 336.8 820.5 338.5 820.3C340.1 820.0 341.8 819.8 343.4 819.6C345.1 819.3 346.7 819.1 348.4 818.9C350.1 818.7 351.7 818.5 353.4 818.4C355.0 818.2 356.7 818.0 358.4 817.9C360.0 817.7 361.7 817.6 363.4 817.4C365.0 817.3 366.7 817.2 368.4 817.1C370.1 817.0 371.7 816.9 373.4 816.8C375.1 816.7 376.8 816.6 378.4 816.5C380.1 816.4 381.8 816.4 383.5 816.3C385.1 816.3 386.8 816.2 388.5 816.2C390.2 816.1 391.9 816.1 393.6 816.1C395.2 816.0 396.9 816.0 398.6 816.0C400.3 816.0 402.0 816.0 403.6 816.0C405.3 816.0 407.0 816.0 408.7 816.0C410.4 816.0 412.1 816.0 413.8 816.0C415.4 816.0 417.1 816.0 418.8 816.1C420.5 816.1 422.2 816.1 423.9 816.1C425.5 816.2 427.2 816.2 428.9 816.2C430.6 816.3 432.3 816.3 434.0 816.3C435.6 816.4 437.3 816.4 439.0 816.4C440.7 816.5 442.4 816.5 444.0 816.6C445.7 816.6 447.4 816.6 449.1 816.7C450.8 816.7 452.4 816.8 454.1 816.8C455.8 816.9 457.5 816.9 459.1 816.9C460.8 817.0 462.5 817.0 464.2 817.1C465.8 817.1 467.5 817.2 469.2 817.2C470.9 817.3 472.5 817.4 474.2 817.4C475.9 817.5 477.6 817.5 479.2 817.6C480.9 817.6 482.6 817.7 484.3 817.8C485.9 817.8 487.6 817.9 489.3 818.0C490.9 818.0 492.6 818.1 494.3 818.2C496.0 818.3 497.6 818.3 499.3 818.4C501.0 818.5 502.6 818.6 504.3 818.6C506.0 818.7 507.7 818.8 509.3 818.9C511.0 819.0 512.7 819.1 514.3 819.2C516.0 819.3 517.7 819.3 519.4 819.4C521.0 819.5 522.7 819.6 524.4 819.7C526.1 819.8 527.7 819.9 529.4 820.1C531.1 820.2 532.7 820.3 534.4 820.4C536.1 820.5 537.8 820.6 539.4 820.7C541.1 820.8 542.8 821.0 544.4 821.1C546.1 821.2 547.8 821.3 549.5 821.5C551.1 821.6 552.8 821.7 554.5 821.9C556.2 822.0 557.8 822.2 559.5 822.3C561.2 822.4 562.8 822.6 564.5 822.7C566.2 822.9 567.9 823.1 569.5 823.2C571.2 823.4 572.9 823.5 574.5 823.7C576.2 823.9 577.9 824.0 579.6 824.2C581.2 824.4 582.9 824.6 584.6 824.7C586.2 824.9 587.9 825.1 589.6 825.3C591.2 825.5 592.9 825.7 594.6 825.9C596.2 826.1 597.9 826.3 599.6 826.5C601.2 826.7 602.9 826.9 604.6 827.1C606.2 827.3 607.9 827.6 609.6 827.8C611.2 828.0 612.9 828.2 614.6 828.5C616.2 828.7 617.9 828.9 619.5 829.2C621.2 829.4 622.9 829.7 624.5 829.9C626.2 830.2 627.8 830.4 629.5 830.7C631.2 831.0 632.8 831.2 634.5 831.5C636.1 831.8 637.8 832.1 639.4 832.4C641.1 832.6 642.7 832.9 644.4 833.2C646.0 833.5 647.7 833.8 649.3 834.1C651.0 834.4 652.6 834.7 654.3 835.1C655.9 835.4 657.6 835.7 659.2 836.0C660.9 836.3 662.5 836.7 664.2 837.0C665.8 837.4 667.4 837.7 669.1 838.1C670.7 838.4 672.4 838.8 674.0 839.1C675.6 839.5 677.3 839.9 678.9 840.2C680.5 840.6 682.2 841.0 683.8 841.4C685.4 841.8 687.1 842.2 688.7 842.6C690.3 843.0 691.9 843.4 693.6 843.8C695.2 844.2 696.8 844.6 698.4 845.0C700.1 845.5 701.7 845.9 703.3 846.3C704.9 846.8 706.5 847.2 708.1 847.7C709.8 848.1 711.4 848.6 713.0 849.1" stroke="#0000ff"/>
<path d="M95.0 1186.1C96.6 1186.5 98.3 1186.8 99.9 1187.2C101.6 1187.6 103.3 1187.9 105.0 1188.2C106.7 1188.5 108.4 1188.7 110.1 1188.9C111.8 1189.1 113.4 1189.2 115.1 1189.2C116.8 1189.2 118.4 1189.1 120.0 1188.9C121.7 1188.6 123.2 1188.3 124.8 1187.8C126.3 1187.3 127.8 1186.7 129.3 1186.0C130.7 1185.3 132.2 1184.5 133.6 1183.6C134.9 1182.7 136.3 1181.7 137.6 1180.6C138.9 1179.5 140.1 1178.4 141.3 1177.1C142.5 1175.9 143.6 1174.6 144.7 1173.3C145.8 1171.9 146.9 1170.5 147.9 1169.1C148.9 1167.6 149.8 1166.2 150.7 1164.7C151.6 1163.2 152.4 1161.6 153.3 1160.1C154.1 1158.5 154.9 1157.0 155.7 1155.4C156.5 1153.9 157.3 1152.4 158.1 1150.9C158.9 1149.3 159.7 1147.9 160.5 1146.4C161.4 1144.9 162.3 1143.5 163.2 1142.2C164.1 1140.8 165.1 1139.5 166.1 1138.3C167.2 1137.1 168.3 1135.9 169.5 1134.8C170.7 1133.8 172.0 1132.8 173.3 1131.9C174.7 1131.0 176.1 1130.1 177.5 1129.4C179.0 1128.6 180.5 1127.9 182.1 1127.3C183.7 1126.7 185.3 1126.1 187.0 1125.6C188.6 1125.2 190.3 1124.7 192.0 1124.3C193.6 1123.8 195.3 1123.4 196.9 1122.8C198.4 1122.2 199.9 1121.5 201.3 1120.6C202.6 1119.8 203.9 1118.8 205.1 1117.7C206.3 1116.6 207.4 1115.4 208.4 1114.2C209.5 1112.9 210.4 1111.5 211.4 1110.1C212.3 1108.7 213.1 1107.3 213.9 1105.8C214.7 1104.3 215.5 1102.8 216.2 1101.2C217.0 1099.7 217.7 1098.2 218.4 1096.6C219.0 1095.1 219.7 1093.5 220.3 1091.9C220.9 1090.4 221.5 1088.8 222.1 1087.2C222.7 1085.6 223.2 1084.0 223.8 1082.4C224.3 1080.8 224.8 1079.2 225.3 1077.6C225.8 1076.0 226.3 1074.4 226.8 1072.8C227.3 1071.2 227.8 1069.6 228.3 1067.9C228.7 1066.3 229.2 1064.7 229.6 1063.1C230.1 1061.5 230.6 1059.8 231.0 1058.2C231.5 1056.6 231.9 1055.0 232.4 1053.3C232.9 1051.7 233.3 1050.1 233.8 1048.5C234.2 1046.8 234.7 1045.2 235.1 1043.6C235.6 1042.0 236.0 1040.3 236.5 1038.7C236.9 1037.1 237.4 1035.4 237.8 1033.8C238.3 1032.2 238.7 1030.6 239.2 1028.9C239.6 1027.3 240.1 1025.7 240.6 1024.1C241.0 1022.5 241.5 1020.8 241.9 1019.2C242.4 1017.6 242.9 1016.0 243.3 1014.3C243.8 1012.7 244.3 1011.1 244.7 1009.5C245.2 1007.9 245.7 1006.2 246.1 1004.6C246.6 1003.0 247.1 1001.4 247.6 999.8C248.1 998.2 248.5 996.6 249.0 995.0C249.5 993.3 250.0 991.7 250.5 990.1C251.0 988.5 251.5 986.9 252.0 985.3C252.5 983.7 253.1 982.1 253.6 980.5C254.1 978.9 254.6 977.3 255.2 975.7C255.7 974.1 256.2 972.5 256.8 970.9C257.3 969.4 257.9 967.8 258.4 966.2C259.0 964.6 259.5 963.0 260.1 961.4C260.7 959.9 261.3 958.3 261.8 956.7C262.4 955.1 263.0 953.6 263.6 952.0C264.2 950.4 264.8 948.9 265.5 947.3C266.1 945.8 266.7 944.2 267.3 942.7C268.0 941.1 268.6 939.6 269.3 938.0C270.0 936.5 270.6 935.0 271.3 933.4C272.0 931.9 272.8 930.4 273.5 928.9C274.2 927.4 275.0 925.9 275.7 924.4C276.5 922.9 277.3 921.5 278.1 920.0C278.9 918.6 279.8 917.1 280.6 915.7C281.5 914.3 282.4 912.9 283.3 911.5C284.2 910.1 285.2 908.7 286.2 907.3C287.1 906.0 288.2 904.7 289.2 903.3C290.2 902.0 291.3 900.7 292.4 899.4C293.5 898.2 294.7 896.9 295.8 895.7C297.0 894.4 298.2 893.2 299.4 892.0C300.6 890.8 301.8 889.7 303.1 888.5C304.3 887.4 305.6 886.2 306.9 885.1C308.2 884.0 309.5 882.9 310.8 881.8C312.2 880.8 313.5 879.7 314.8 878.7C316.2 877.7 317.6 876.7 318.9 875.7C320.3 874.7 321.7 873.7 323.1 872.8C324.5 871.8 325.9 870.9 327.3 870.0C328.8 869.1 330.2 868.2 331.6 867.3C333.1 866.5 334.5 865.6 336.0 864.8C337.5 864.0 338.9 863.2 340.4 862.4C341.9 861.6 343.4 860.9 344.9 860.1C346.4 859.4 347.9 858.7 349.5 858.0C351.0 857.3 352.5 856.6 354.1 855.9C355.6 855.2 357.1 854.6 358.7 854.0C360.3 853.4 361.8 852.8 363.4 852.2C365.0 851.6 366.5 851.0 368.1 850.5C369.7 849.9 371.3 849.4 372.9 848.9C374.5 848.4 376.1 847.9 377.7 847.5C379.3 847.0 380.9 846.6 382.6 846.1C384.2 845.7 385.8 845.3 387.4 844.9C389.1 844.5 390.7 844.2 392.4 843.8C394.0 843.5 395.6 843.1 397.3 842.8C398.9 842.5 400.6 842.2 402.3 842.0C403.9 841.7 405.6 841.4 407.2 841.2C408.9 841.0 410.6 840.8 412.2 840.6C413.9 840.4 415.6 840.2 417.2 840.0C418.9 839.9 420.6 839.8 422.3 839.6C423.9 839.5 425.6 839.4 427.3 839.3C429.0 839.2 430.7 839.1 432.4 839.1C434.0 839.0 435.7 839.0 437.4 838.9C439.1 838.9 440.8 838.9 442.5 838.8C444.2 838.8 445.9 838.8 447.5 838.8C449.2 838.9 450.9 838.9 452.6 838.9C454.3 838.9 456.0 839.0 457.7 839.0C459.4 839.1 461.1 839.1 462.8 839.2C464.5 839.2 466.2 839.3 467.9 839.4C469.6 839.4 471.3 839.5 473.0 839.6C474.6 839.7 476.3 839.8 478.0 839.8C479.7 839.9 481.4 840.0 483.1 840.1C484.8 840.2 486.5 840.3 488.2 840.4C489.9 840.5 491.6 840.6 493.3 840.7C495.0 840.7 496.7 840.8 498.3 840.9C500.0 841.0 501.7 841.1 503.4 841.2C505.1 841.3 506.8 841.4 508.5 841.4C510.1 841.5 511.8 841.6 513.5 841.7C515.2 841.8 516.9 841.9 518.5 842.0C520.2 842.0 521.9 842.1 523.6 842.2C525.3 842.3 526.9 842.4 528.6 842.5C530.3 842.6 532.0 842.7 533.6 842.8C535.3 842.9 537.0 843.0 538.7 843.1C540.3 843.2 542.0 843.3 543.7 843.5C545.3 843.6 547.0 843.7 548.7 843.8C550.4 844.0 552.0 844.1 553.7 844.3C555.4 844.4 557.0 844.5 558.7 844.7C560.4 844.9 562.0 845.0 563.7 845.2C565.4 845.4 567.0 845.5 568.7 845.7C570.4 845.9 572.0 846.1 573.7 846.3C575.4 846.5 577.0 846.8 578.7 847.0C580.3 847.2 582.0 847.4 583.7 847.7C585.3 847.9 587.0 848.2 588.6 848.5C590.3 848.7 592.0 849.0 593.6 849.3C595.3 849.6 596.9 849.9 598.6 850.2C600.3 850.5 601.9 850.9 603.6 851.2C605.2 851.6 606.9 851.9 608.5 852.3C610.2 852.6 611.8 853.0 613.5 853.4C615.1 853.8 616.8 854.2 618.4 854.6C620.1 855.1 621.7 855.5 623.3 855.9C625.0 856.4 626.6 856.9 628.2 857.3C629.9 857.8 631.5 858.3 633.1 858.8C634.7 859.3 636.3 859.8 637.9 860.3C639.6 860.9 641.2 861.4 642.8 862.0C644.4 862.5 646.0 863.1 647.5 863.7C649.1 864.3 650.7 864.9 652.3 865.5C653.9 866.1 655.4 866.8 657.0 867.4C658.5 868.1 660.1 868.7 661.6 869.4C663.2 870.1 664.7 870.8 666.2 871.5C667.8 872.2 669.3 872.9 670.8 873.7C672.3 874.4 673.8 875.2 675.3 875.9C676.8 876.7 678.3 877.5 679.8 878.3C681.2 879.1 682.7 879.9 684.2 880.8C685.6 881.6 687.1 882.5 688.5 883.3C689.9 884.2 691.4 885.1 692.8 886.0C694.2 886.9 695.6 887.8 697.0 888.8C698.4 889.7 699.7 890.7 701.1 891.6C702.5 892.6 703.8 893.6 705.2 894.6C706.5 895.6 707.8 896.6 709.1 897.7C710.5 898.7 711.8 899.8 713.0 900.9" stroke="#646464"/>
</g>
<line x1="435.2" y1="815.6" x2="413.0" y2="822.4" stroke="#000" stroke-width="3.9"/>
<polygon points="401.0,826.0 412.5,814.1 417.2,829.4" fill="#000"/>
<line x1="435.2" y1="838.0" x2="412.6" y2="847.3" stroke="#000" stroke-width="3.9"/>
<polygon points="401.0,852.0 411.4,839.1 417.4,853.9" fill="#000"/>
<line x1="435.2" y1="894.6" x2="389.0" y2="916.1" stroke="#000" stroke-width="3.9"/>
<polygon points="377.7,921.4 387.5,908.0 394.2,922.5" fill="#000"/>
<line x1="435.2" y1="1003.0" x2="359.9" y2="1034.2" stroke="#000" stroke-width="3.9"/>
<polygon points="348.4,1039.0 358.7,1026.1 364.9,1040.8" fill="#000"/>
<line x1="435.2" y1="1150.4" x2="356.5" y2="1158.5" stroke="#000" stroke-width="3.9"/>
<polygon points="344.1,1159.8 357.7,1150.4 359.3,1166.3" fill="#000"/>
<line x1="397.6" y1="798.6" x2="435.2" y2="798.6" stroke="#000" stroke-width="3.6"/>
<circle cx="435.2" cy="798.6" r="8" fill="#000"/>
<text x="116.4" y="805.3" font-size="27.2" fill="#000">Reference Wavelength</text>
<path d="M158.5 775.0v8.3M158.5 1339.7v-8.3M220.0 775.0v8.3M220.0 1339.7v-8.3M281.5 775.0v8.3M281.5 1339.7v-8.3M343.0 775.0v8.3M343.0 1339.7v-8.3M404.5 775.0v8.3M404.5 1339.7v-8.3M466.0 775.0v8.3M466.0 1339.7v-8.3M527.5 775.0v8.3M527.5 1339.7v-8.3M589.0 775.0v8.3M589.0 1339.7v-8.3M650.5 775.0v8.3M650.5 1339.7v-8.3M97.0 1226.8h8.3M712.0 1226.8h-8.3M97.0 1113.8h8.3M712.0 1113.8h-8.3M97.0 1000.9h8.3M712.0 1000.9h-8.3M97.0 887.9h8.3M712.0 887.9h-8.3" stroke="#000" stroke-width="3.5" fill="none"/>
<rect x="97.0" y="532.4" width="615.0" height="807.3" fill="none" stroke="#000" stroke-width="3.6"/>
<line x1="97.0" y1="775.0" x2="712.0" y2="775.0" stroke="#000" stroke-width="3.6"/>
<text x="86.5" y="1351.7" font-size="34" text-anchor="end" fill="#000">0</text>
<text x="86.5" y="1238.8" font-size="34" text-anchor="end" fill="#000">20</text>
<text x="86.5" y="1125.8" font-size="34" text-anchor="end" fill="#000">40</text>
<text x="86.5" y="1012.9" font-size="34" text-anchor="end" fill="#000">60</text>
<text x="86.5" y="899.9" font-size="34" text-anchor="end" fill="#000">80</text>
<text x="86.5" y="787.0" font-size="34" text-anchor="end" fill="#000">100</text>
<text x="97.8" y="1380.6" font-size="34" text-anchor="middle" fill="#000">1000</text>
<text x="220.3" y="1380.6" font-size="34" text-anchor="middle" fill="#000">1200</text>
<text x="342.8" y="1380.6" font-size="34" text-anchor="middle" fill="#000">1400</text>
<text x="465.3" y="1380.6" font-size="34" text-anchor="middle" fill="#000">1600</text>
<text x="587.8" y="1380.6" font-size="34" text-anchor="middle" fill="#000">1800</text>
<text x="710.3" y="1380.6" font-size="34" text-anchor="middle" fill="#000">2000</text>
<text x="409.7" y="1414.9" font-size="34.4" text-anchor="middle" fill="#000">Wavelength (nm)</text>
<text transform="translate(26.4 1057.3) rotate(-90)" font-size="34.5" text-anchor="middle" fill="#000">Modeled Reflectance (%)</text>
<line x1="122.2" y1="565.7" x2="165.2" y2="565.7" stroke="#00cc00" stroke-width="7"/>
<text x="173.3" y="575.4" font-size="34.1" fill="#000">SME MoS<tspan font-size="22" dy="7">2</tspan><tspan dy="-7"> / PMMA</tspan></text>
<line x1="122.2" y1="609.6" x2="165.2" y2="609.6" stroke="#ff6600" stroke-width="7"/>
<text x="173.3" y="619.3" font-size="34.1" fill="#000">CEPR MoS<tspan font-size="22" dy="7">2</tspan><tspan dy="-7"> / PMMA</tspan></text>
<line x1="122.2" y1="653.5" x2="165.2" y2="653.5" stroke="#a000d0" stroke-width="7"/>
<text x="173.3" y="663.2" font-size="34.1" fill="#000">RE MoS<tspan font-size="22" dy="7">2</tspan><tspan dy="-7"> / PMMA</tspan></text>
<line x1="122.2" y1="697.4" x2="165.2" y2="697.4" stroke="#0000ff" stroke-width="7"/>
<text x="173.3" y="707.1" font-size="34.1" fill="#000">NRE MoS<tspan font-size="22" dy="7">2</tspan><tspan dy="-7"> / PMMA</tspan></text>
<line x1="122.2" y1="741.3" x2="165.2" y2="741.3" stroke="#646464" stroke-width="7"/>
<text x="173.3" y="751.0" font-size="34.1" fill="#000">NRE MoS<tspan font-size="22" dy="7">2</tspan><tspan dy="-7"> / SME MoS</tspan><tspan font-size="22" dy="7">2</tspan></text>
<line x1="517" y1="634.4" x2="560.3" y2="634.4" stroke="#000" stroke-width="7.5"/>
<line x1="517" y1="677.7" x2="558" y2="677.7" stroke="#000" stroke-width="6.8" stroke-dasharray="3.3 2.7"/>
<text x="567.6" y="643.8" font-size="34" fill="#000">0º AOI</text>
<text x="567.6" y="687.4" font-size="34" fill="#000">45º AOI</text>
</g>
</svg>
</body></html>
